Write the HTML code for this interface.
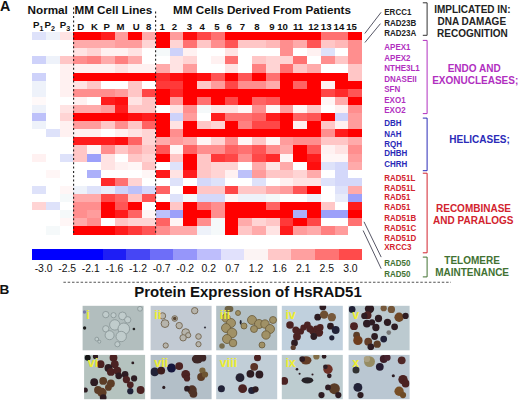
<!DOCTYPE html>
<html><head><meta charset="utf-8"><style>
html,body{margin:0;padding:0;background:#fff;}
body{width:520px;height:400px;overflow:hidden;position:relative;font-family:"Liberation Sans",sans-serif;}
svg{position:absolute;left:0;top:0;}
</style></head><body>
<svg width="520" height="400" viewBox="0 0 520 400" font-family="Liberation Sans, sans-serif">
<defs><filter id="bl" x="-50%" y="-50%" width="200%" height="200%"><feGaussianBlur stdDeviation="0.6"/></filter><filter id="bl2" x="-50%" y="-50%" width="200%" height="200%"><feGaussianBlur stdDeviation="0.4"/></filter>
<clipPath id="c_i"><rect x="82.6" y="305.8" width="61.0" height="44.5"/></clipPath>
<clipPath id="c_ii"><rect x="150.6" y="305.8" width="61.0" height="44.5"/></clipPath>
<clipPath id="c_iii"><rect x="216.2" y="305.8" width="61.0" height="44.5"/></clipPath>
<clipPath id="c_iv"><rect x="281.8" y="305.8" width="61.0" height="44.5"/></clipPath>
<clipPath id="c_v"><rect x="348.6" y="305.8" width="61.0" height="44.5"/></clipPath>
<clipPath id="c_vi"><rect x="84.1" y="354.9" width="61.0" height="44.3"/></clipPath>
<clipPath id="c_vii"><rect x="150.6" y="354.9" width="61.0" height="44.3"/></clipPath>
<clipPath id="c_viii"><rect x="216.2" y="354.9" width="61.0" height="44.3"/></clipPath>
<clipPath id="c_ix"><rect x="281.8" y="354.9" width="61.0" height="44.3"/></clipPath>
<clipPath id="c_x"><rect x="348.6" y="354.9" width="61.0" height="44.3"/></clipPath></defs>
<g shape-rendering="crispEdges">
<rect x="32.00" y="32.00" width="13.81" height="8.15" fill="rgb(222,226,250)"/>
<rect x="45.76" y="32.00" width="13.81" height="8.15" fill="rgb(238,242,250)"/>
<rect x="59.52" y="32.00" width="13.81" height="8.15" fill="rgb(255,227,227)"/>
<rect x="73.28" y="32.00" width="13.81" height="8.15" fill="rgb(255,0,0)"/>
<rect x="87.04" y="32.00" width="13.81" height="8.15" fill="rgb(255,0,0)"/>
<rect x="100.80" y="32.00" width="13.81" height="8.15" fill="rgb(255,28,28)"/>
<rect x="114.56" y="32.00" width="13.81" height="8.15" fill="rgb(255,156,156)"/>
<rect x="128.32" y="32.00" width="13.81" height="8.15" fill="rgb(255,0,0)"/>
<rect x="142.08" y="32.00" width="13.81" height="8.15" fill="rgb(255,170,170)"/>
<rect x="155.84" y="32.00" width="13.81" height="8.15" fill="rgb(255,0,0)"/>
<rect x="169.60" y="32.00" width="13.81" height="8.15" fill="rgb(255,156,156)"/>
<rect x="183.36" y="32.00" width="13.81" height="8.15" fill="rgb(255,14,14)"/>
<rect x="197.12" y="32.00" width="13.81" height="8.15" fill="rgb(255,71,71)"/>
<rect x="210.88" y="32.00" width="13.81" height="8.15" fill="rgb(255,113,113)"/>
<rect x="224.64" y="32.00" width="13.81" height="8.15" fill="rgb(255,0,0)"/>
<rect x="238.40" y="32.00" width="13.81" height="8.15" fill="rgb(255,0,0)"/>
<rect x="252.16" y="32.00" width="13.81" height="8.15" fill="rgb(255,0,0)"/>
<rect x="265.92" y="32.00" width="13.81" height="8.15" fill="rgb(255,0,0)"/>
<rect x="279.68" y="32.00" width="13.81" height="8.15" fill="rgb(255,0,0)"/>
<rect x="293.44" y="32.00" width="13.81" height="8.15" fill="rgb(255,0,0)"/>
<rect x="307.20" y="32.00" width="13.81" height="8.15" fill="rgb(255,0,0)"/>
<rect x="320.96" y="32.00" width="13.81" height="8.15" fill="rgb(255,113,113)"/>
<rect x="334.72" y="32.00" width="13.81" height="8.15" fill="rgb(255,113,113)"/>
<rect x="348.48" y="32.00" width="13.81" height="8.15" fill="rgb(255,0,0)"/>
<rect x="32.00" y="40.10" width="13.81" height="8.15" fill="rgb(255,255,255)"/>
<rect x="45.76" y="40.10" width="13.81" height="8.15" fill="rgb(255,255,255)"/>
<rect x="59.52" y="40.10" width="13.81" height="8.15" fill="rgb(255,255,255)"/>
<rect x="73.28" y="40.10" width="13.81" height="8.15" fill="rgb(255,170,170)"/>
<rect x="87.04" y="40.10" width="13.81" height="8.15" fill="rgb(255,170,170)"/>
<rect x="100.80" y="40.10" width="13.81" height="8.15" fill="rgb(255,170,170)"/>
<rect x="114.56" y="40.10" width="13.81" height="8.15" fill="rgb(255,156,156)"/>
<rect x="128.32" y="40.10" width="13.81" height="8.15" fill="rgb(255,156,156)"/>
<rect x="142.08" y="40.10" width="13.81" height="8.15" fill="rgb(255,212,212)"/>
<rect x="155.84" y="40.10" width="13.81" height="8.15" fill="rgb(255,0,0)"/>
<rect x="169.60" y="40.10" width="13.81" height="8.15" fill="rgb(255,212,212)"/>
<rect x="183.36" y="40.10" width="13.81" height="8.15" fill="rgb(255,113,113)"/>
<rect x="197.12" y="40.10" width="13.81" height="8.15" fill="rgb(255,198,198)"/>
<rect x="210.88" y="40.10" width="13.81" height="8.15" fill="rgb(255,142,142)"/>
<rect x="224.64" y="40.10" width="13.81" height="8.15" fill="rgb(255,85,85)"/>
<rect x="238.40" y="40.10" width="13.81" height="8.15" fill="rgb(255,198,198)"/>
<rect x="252.16" y="40.10" width="13.81" height="8.15" fill="rgb(255,198,198)"/>
<rect x="265.92" y="40.10" width="13.81" height="8.15" fill="rgb(255,184,184)"/>
<rect x="279.68" y="40.10" width="13.81" height="8.15" fill="rgb(255,142,142)"/>
<rect x="293.44" y="40.10" width="13.81" height="8.15" fill="rgb(255,170,170)"/>
<rect x="307.20" y="40.10" width="13.81" height="8.15" fill="rgb(255,85,85)"/>
<rect x="320.96" y="40.10" width="13.81" height="8.15" fill="rgb(255,198,198)"/>
<rect x="334.72" y="40.10" width="13.81" height="8.15" fill="rgb(255,184,184)"/>
<rect x="348.48" y="40.10" width="13.81" height="8.15" fill="rgb(255,142,142)"/>
<rect x="32.00" y="48.20" width="13.81" height="8.15" fill="rgb(255,255,255)"/>
<rect x="45.76" y="48.20" width="13.81" height="8.15" fill="rgb(255,255,255)"/>
<rect x="59.52" y="48.20" width="13.81" height="8.15" fill="rgb(255,255,255)"/>
<rect x="73.28" y="48.20" width="13.81" height="8.15" fill="rgb(255,227,227)"/>
<rect x="87.04" y="48.20" width="13.81" height="8.15" fill="rgb(255,212,212)"/>
<rect x="100.80" y="48.20" width="13.81" height="8.15" fill="rgb(255,241,241)"/>
<rect x="114.56" y="48.20" width="13.81" height="8.15" fill="rgb(255,241,241)"/>
<rect x="128.32" y="48.20" width="13.81" height="8.15" fill="rgb(255,227,227)"/>
<rect x="142.08" y="48.20" width="13.81" height="8.15" fill="rgb(255,255,255)"/>
<rect x="155.84" y="48.20" width="13.81" height="8.15" fill="rgb(245,249,250)"/>
<rect x="169.60" y="48.20" width="13.81" height="8.15" fill="rgb(206,210,250)"/>
<rect x="183.36" y="48.20" width="13.81" height="8.15" fill="rgb(255,241,241)"/>
<rect x="197.12" y="48.20" width="13.81" height="8.15" fill="rgb(255,255,255)"/>
<rect x="210.88" y="48.20" width="13.81" height="8.15" fill="rgb(255,255,255)"/>
<rect x="224.64" y="48.20" width="13.81" height="8.15" fill="rgb(255,227,227)"/>
<rect x="238.40" y="48.20" width="13.81" height="8.15" fill="rgb(255,255,255)"/>
<rect x="252.16" y="48.20" width="13.81" height="8.15" fill="rgb(255,255,255)"/>
<rect x="265.92" y="48.20" width="13.81" height="8.15" fill="rgb(255,255,255)"/>
<rect x="279.68" y="48.20" width="13.81" height="8.15" fill="rgb(255,142,142)"/>
<rect x="293.44" y="48.20" width="13.81" height="8.15" fill="rgb(255,255,255)"/>
<rect x="307.20" y="48.20" width="13.81" height="8.15" fill="rgb(255,241,241)"/>
<rect x="320.96" y="48.20" width="13.81" height="8.15" fill="rgb(222,226,250)"/>
<rect x="334.72" y="48.20" width="13.81" height="8.15" fill="rgb(255,255,255)"/>
<rect x="348.48" y="48.20" width="13.81" height="8.15" fill="rgb(255,142,142)"/>
<rect x="32.00" y="56.30" width="13.81" height="8.15" fill="rgb(206,210,250)"/>
<rect x="45.76" y="56.30" width="13.81" height="8.15" fill="rgb(238,242,250)"/>
<rect x="59.52" y="56.30" width="13.81" height="8.15" fill="rgb(255,198,198)"/>
<rect x="73.28" y="56.30" width="13.81" height="8.15" fill="rgb(255,142,142)"/>
<rect x="87.04" y="56.30" width="13.81" height="8.15" fill="rgb(255,128,128)"/>
<rect x="100.80" y="56.30" width="13.81" height="8.15" fill="rgb(255,170,170)"/>
<rect x="114.56" y="56.30" width="13.81" height="8.15" fill="rgb(255,128,128)"/>
<rect x="128.32" y="56.30" width="13.81" height="8.15" fill="rgb(255,170,170)"/>
<rect x="142.08" y="56.30" width="13.81" height="8.15" fill="rgb(255,255,255)"/>
<rect x="155.84" y="56.30" width="13.81" height="8.15" fill="rgb(255,255,255)"/>
<rect x="169.60" y="56.30" width="13.81" height="8.15" fill="rgb(255,227,227)"/>
<rect x="183.36" y="56.30" width="13.81" height="8.15" fill="rgb(255,212,212)"/>
<rect x="197.12" y="56.30" width="13.81" height="8.15" fill="rgb(255,255,255)"/>
<rect x="210.88" y="56.30" width="13.81" height="8.15" fill="rgb(255,241,241)"/>
<rect x="224.64" y="56.30" width="13.81" height="8.15" fill="rgb(255,113,113)"/>
<rect x="238.40" y="56.30" width="13.81" height="8.15" fill="rgb(255,255,255)"/>
<rect x="252.16" y="56.30" width="13.81" height="8.15" fill="rgb(255,198,198)"/>
<rect x="265.92" y="56.30" width="13.81" height="8.15" fill="rgb(255,212,212)"/>
<rect x="279.68" y="56.30" width="13.81" height="8.15" fill="rgb(255,212,212)"/>
<rect x="293.44" y="56.30" width="13.81" height="8.15" fill="rgb(255,113,113)"/>
<rect x="307.20" y="56.30" width="13.81" height="8.15" fill="rgb(255,255,255)"/>
<rect x="320.96" y="56.30" width="13.81" height="8.15" fill="rgb(255,142,142)"/>
<rect x="334.72" y="56.30" width="13.81" height="8.15" fill="rgb(255,198,198)"/>
<rect x="348.48" y="56.30" width="13.81" height="8.15" fill="rgb(255,142,142)"/>
<rect x="32.00" y="64.40" width="13.81" height="8.15" fill="rgb(255,255,255)"/>
<rect x="45.76" y="64.40" width="13.81" height="8.15" fill="rgb(255,255,255)"/>
<rect x="59.52" y="64.40" width="13.81" height="8.15" fill="rgb(255,241,241)"/>
<rect x="73.28" y="64.40" width="13.81" height="8.15" fill="rgb(255,241,241)"/>
<rect x="87.04" y="64.40" width="13.81" height="8.15" fill="rgb(255,241,241)"/>
<rect x="100.80" y="64.40" width="13.81" height="8.15" fill="rgb(255,241,241)"/>
<rect x="114.56" y="64.40" width="13.81" height="8.15" fill="rgb(255,227,227)"/>
<rect x="128.32" y="64.40" width="13.81" height="8.15" fill="rgb(255,241,241)"/>
<rect x="142.08" y="64.40" width="13.81" height="8.15" fill="rgb(255,241,241)"/>
<rect x="155.84" y="64.40" width="13.81" height="8.15" fill="rgb(255,170,170)"/>
<rect x="169.60" y="64.40" width="13.81" height="8.15" fill="rgb(255,227,227)"/>
<rect x="183.36" y="64.40" width="13.81" height="8.15" fill="rgb(255,156,156)"/>
<rect x="197.12" y="64.40" width="13.81" height="8.15" fill="rgb(255,255,255)"/>
<rect x="210.88" y="64.40" width="13.81" height="8.15" fill="rgb(255,255,255)"/>
<rect x="224.64" y="64.40" width="13.81" height="8.15" fill="rgb(255,227,227)"/>
<rect x="238.40" y="64.40" width="13.81" height="8.15" fill="rgb(255,255,255)"/>
<rect x="252.16" y="64.40" width="13.81" height="8.15" fill="rgb(255,128,128)"/>
<rect x="265.92" y="64.40" width="13.81" height="8.15" fill="rgb(255,212,212)"/>
<rect x="279.68" y="64.40" width="13.81" height="8.15" fill="rgb(255,113,113)"/>
<rect x="293.44" y="64.40" width="13.81" height="8.15" fill="rgb(255,198,198)"/>
<rect x="307.20" y="64.40" width="13.81" height="8.15" fill="rgb(255,170,170)"/>
<rect x="320.96" y="64.40" width="13.81" height="8.15" fill="rgb(255,255,255)"/>
<rect x="334.72" y="64.40" width="13.81" height="8.15" fill="rgb(255,255,255)"/>
<rect x="348.48" y="64.40" width="13.81" height="8.15" fill="rgb(255,198,198)"/>
<rect x="32.00" y="72.50" width="13.81" height="8.15" fill="rgb(206,210,250)"/>
<rect x="45.76" y="72.50" width="13.81" height="8.15" fill="rgb(255,255,255)"/>
<rect x="59.52" y="72.50" width="13.81" height="8.15" fill="rgb(255,241,241)"/>
<rect x="73.28" y="72.50" width="13.81" height="8.15" fill="rgb(255,0,0)"/>
<rect x="87.04" y="72.50" width="13.81" height="8.15" fill="rgb(255,0,0)"/>
<rect x="100.80" y="72.50" width="13.81" height="8.15" fill="rgb(255,0,0)"/>
<rect x="114.56" y="72.50" width="13.81" height="8.15" fill="rgb(255,0,0)"/>
<rect x="128.32" y="72.50" width="13.81" height="8.15" fill="rgb(255,0,0)"/>
<rect x="142.08" y="72.50" width="13.81" height="8.15" fill="rgb(255,0,0)"/>
<rect x="155.84" y="72.50" width="13.81" height="8.15" fill="rgb(255,42,42)"/>
<rect x="169.60" y="72.50" width="13.81" height="8.15" fill="rgb(255,14,14)"/>
<rect x="183.36" y="72.50" width="13.81" height="8.15" fill="rgb(255,0,0)"/>
<rect x="197.12" y="72.50" width="13.81" height="8.15" fill="rgb(255,14,14)"/>
<rect x="210.88" y="72.50" width="13.81" height="8.15" fill="rgb(255,85,85)"/>
<rect x="224.64" y="72.50" width="13.81" height="8.15" fill="rgb(255,0,0)"/>
<rect x="238.40" y="72.50" width="13.81" height="8.15" fill="rgb(255,85,85)"/>
<rect x="252.16" y="72.50" width="13.81" height="8.15" fill="rgb(255,0,0)"/>
<rect x="265.92" y="72.50" width="13.81" height="8.15" fill="rgb(255,113,113)"/>
<rect x="279.68" y="72.50" width="13.81" height="8.15" fill="rgb(255,0,0)"/>
<rect x="293.44" y="72.50" width="13.81" height="8.15" fill="rgb(255,0,0)"/>
<rect x="307.20" y="72.50" width="13.81" height="8.15" fill="rgb(255,0,0)"/>
<rect x="320.96" y="72.50" width="13.81" height="8.15" fill="rgb(255,0,0)"/>
<rect x="334.72" y="72.50" width="13.81" height="8.15" fill="rgb(255,0,0)"/>
<rect x="348.48" y="72.50" width="13.81" height="8.15" fill="rgb(255,198,198)"/>
<rect x="32.00" y="80.60" width="13.81" height="8.15" fill="rgb(238,242,250)"/>
<rect x="45.76" y="80.60" width="13.81" height="8.15" fill="rgb(255,255,255)"/>
<rect x="59.52" y="80.60" width="13.81" height="8.15" fill="rgb(255,241,241)"/>
<rect x="73.28" y="80.60" width="13.81" height="8.15" fill="rgb(255,227,227)"/>
<rect x="87.04" y="80.60" width="13.81" height="8.15" fill="rgb(255,198,198)"/>
<rect x="100.80" y="80.60" width="13.81" height="8.15" fill="rgb(255,255,255)"/>
<rect x="114.56" y="80.60" width="13.81" height="8.15" fill="rgb(255,255,255)"/>
<rect x="128.32" y="80.60" width="13.81" height="8.15" fill="rgb(255,198,198)"/>
<rect x="142.08" y="80.60" width="13.81" height="8.15" fill="rgb(255,255,255)"/>
<rect x="155.84" y="80.60" width="13.81" height="8.15" fill="rgb(255,57,57)"/>
<rect x="169.60" y="80.60" width="13.81" height="8.15" fill="rgb(255,57,57)"/>
<rect x="183.36" y="80.60" width="13.81" height="8.15" fill="rgb(255,0,0)"/>
<rect x="197.12" y="80.60" width="13.81" height="8.15" fill="rgb(255,198,198)"/>
<rect x="210.88" y="80.60" width="13.81" height="8.15" fill="rgb(255,156,156)"/>
<rect x="224.64" y="80.60" width="13.81" height="8.15" fill="rgb(255,71,71)"/>
<rect x="238.40" y="80.60" width="13.81" height="8.15" fill="rgb(255,142,142)"/>
<rect x="252.16" y="80.60" width="13.81" height="8.15" fill="rgb(255,142,142)"/>
<rect x="265.92" y="80.60" width="13.81" height="8.15" fill="rgb(255,170,170)"/>
<rect x="279.68" y="80.60" width="13.81" height="8.15" fill="rgb(255,0,0)"/>
<rect x="293.44" y="80.60" width="13.81" height="8.15" fill="rgb(255,99,99)"/>
<rect x="307.20" y="80.60" width="13.81" height="8.15" fill="rgb(255,0,0)"/>
<rect x="320.96" y="80.60" width="13.81" height="8.15" fill="rgb(255,241,241)"/>
<rect x="334.72" y="80.60" width="13.81" height="8.15" fill="rgb(255,0,0)"/>
<rect x="348.48" y="80.60" width="13.81" height="8.15" fill="rgb(255,0,0)"/>
<rect x="32.00" y="88.70" width="13.81" height="8.15" fill="rgb(238,242,250)"/>
<rect x="45.76" y="88.70" width="13.81" height="8.15" fill="rgb(255,255,255)"/>
<rect x="59.52" y="88.70" width="13.81" height="8.15" fill="rgb(255,241,241)"/>
<rect x="73.28" y="88.70" width="13.81" height="8.15" fill="rgb(255,142,142)"/>
<rect x="87.04" y="88.70" width="13.81" height="8.15" fill="rgb(255,142,142)"/>
<rect x="100.80" y="88.70" width="13.81" height="8.15" fill="rgb(255,142,142)"/>
<rect x="114.56" y="88.70" width="13.81" height="8.15" fill="rgb(255,156,156)"/>
<rect x="128.32" y="88.70" width="13.81" height="8.15" fill="rgb(255,198,198)"/>
<rect x="142.08" y="88.70" width="13.81" height="8.15" fill="rgb(255,71,71)"/>
<rect x="155.84" y="88.70" width="13.81" height="8.15" fill="rgb(255,0,0)"/>
<rect x="169.60" y="88.70" width="13.81" height="8.15" fill="rgb(255,42,42)"/>
<rect x="183.36" y="88.70" width="13.81" height="8.15" fill="rgb(255,0,0)"/>
<rect x="197.12" y="88.70" width="13.81" height="8.15" fill="rgb(255,0,0)"/>
<rect x="210.88" y="88.70" width="13.81" height="8.15" fill="rgb(255,0,0)"/>
<rect x="224.64" y="88.70" width="13.81" height="8.15" fill="rgb(255,0,0)"/>
<rect x="238.40" y="88.70" width="13.81" height="8.15" fill="rgb(255,0,0)"/>
<rect x="252.16" y="88.70" width="13.81" height="8.15" fill="rgb(255,0,0)"/>
<rect x="265.92" y="88.70" width="13.81" height="8.15" fill="rgb(255,0,0)"/>
<rect x="279.68" y="88.70" width="13.81" height="8.15" fill="rgb(255,0,0)"/>
<rect x="293.44" y="88.70" width="13.81" height="8.15" fill="rgb(255,0,0)"/>
<rect x="307.20" y="88.70" width="13.81" height="8.15" fill="rgb(255,0,0)"/>
<rect x="320.96" y="88.70" width="13.81" height="8.15" fill="rgb(255,71,71)"/>
<rect x="334.72" y="88.70" width="13.81" height="8.15" fill="rgb(255,42,42)"/>
<rect x="348.48" y="88.70" width="13.81" height="8.15" fill="rgb(255,85,85)"/>
<rect x="32.00" y="96.80" width="13.81" height="8.15" fill="rgb(255,249,249)"/>
<rect x="45.76" y="96.80" width="13.81" height="8.15" fill="rgb(255,255,255)"/>
<rect x="59.52" y="96.80" width="13.81" height="8.15" fill="rgb(255,255,255)"/>
<rect x="73.28" y="96.80" width="13.81" height="8.15" fill="rgb(255,241,241)"/>
<rect x="87.04" y="96.80" width="13.81" height="8.15" fill="rgb(255,255,255)"/>
<rect x="100.80" y="96.80" width="13.81" height="8.15" fill="rgb(255,28,28)"/>
<rect x="114.56" y="96.80" width="13.81" height="8.15" fill="rgb(255,14,14)"/>
<rect x="128.32" y="96.80" width="13.81" height="8.15" fill="rgb(255,227,227)"/>
<rect x="142.08" y="96.80" width="13.81" height="8.15" fill="rgb(255,198,198)"/>
<rect x="155.84" y="96.80" width="13.81" height="8.15" fill="rgb(255,0,0)"/>
<rect x="169.60" y="96.80" width="13.81" height="8.15" fill="rgb(255,156,156)"/>
<rect x="183.36" y="96.80" width="13.81" height="8.15" fill="rgb(255,0,0)"/>
<rect x="197.12" y="96.80" width="13.81" height="8.15" fill="rgb(255,113,113)"/>
<rect x="210.88" y="96.80" width="13.81" height="8.15" fill="rgb(255,0,0)"/>
<rect x="224.64" y="96.80" width="13.81" height="8.15" fill="rgb(255,71,71)"/>
<rect x="238.40" y="96.80" width="13.81" height="8.15" fill="rgb(255,0,0)"/>
<rect x="252.16" y="96.80" width="13.81" height="8.15" fill="rgb(255,99,99)"/>
<rect x="265.92" y="96.80" width="13.81" height="8.15" fill="rgb(255,85,85)"/>
<rect x="279.68" y="96.80" width="13.81" height="8.15" fill="rgb(255,0,0)"/>
<rect x="293.44" y="96.80" width="13.81" height="8.15" fill="rgb(255,0,0)"/>
<rect x="307.20" y="96.80" width="13.81" height="8.15" fill="rgb(255,0,0)"/>
<rect x="320.96" y="96.80" width="13.81" height="8.15" fill="rgb(255,246,246)"/>
<rect x="334.72" y="96.80" width="13.81" height="8.15" fill="rgb(255,170,170)"/>
<rect x="348.48" y="96.80" width="13.81" height="8.15" fill="rgb(255,0,0)"/>
<rect x="32.00" y="104.90" width="13.81" height="8.15" fill="rgb(238,242,250)"/>
<rect x="45.76" y="104.90" width="13.81" height="8.15" fill="rgb(255,255,255)"/>
<rect x="59.52" y="104.90" width="13.81" height="8.15" fill="rgb(255,227,227)"/>
<rect x="73.28" y="104.90" width="13.81" height="8.15" fill="rgb(255,170,170)"/>
<rect x="87.04" y="104.90" width="13.81" height="8.15" fill="rgb(255,170,170)"/>
<rect x="100.80" y="104.90" width="13.81" height="8.15" fill="rgb(255,156,156)"/>
<rect x="114.56" y="104.90" width="13.81" height="8.15" fill="rgb(255,28,28)"/>
<rect x="128.32" y="104.90" width="13.81" height="8.15" fill="rgb(255,198,198)"/>
<rect x="142.08" y="104.90" width="13.81" height="8.15" fill="rgb(255,198,198)"/>
<rect x="155.84" y="104.90" width="13.81" height="8.15" fill="rgb(255,255,255)"/>
<rect x="169.60" y="104.90" width="13.81" height="8.15" fill="rgb(255,227,227)"/>
<rect x="183.36" y="104.90" width="13.81" height="8.15" fill="rgb(255,142,142)"/>
<rect x="197.12" y="104.90" width="13.81" height="8.15" fill="rgb(245,249,250)"/>
<rect x="210.88" y="104.90" width="13.81" height="8.15" fill="rgb(255,227,227)"/>
<rect x="224.64" y="104.90" width="13.81" height="8.15" fill="rgb(255,227,227)"/>
<rect x="238.40" y="104.90" width="13.81" height="8.15" fill="rgb(255,246,246)"/>
<rect x="252.16" y="104.90" width="13.81" height="8.15" fill="rgb(255,142,142)"/>
<rect x="265.92" y="104.90" width="13.81" height="8.15" fill="rgb(255,246,246)"/>
<rect x="279.68" y="104.90" width="13.81" height="8.15" fill="rgb(255,156,156)"/>
<rect x="293.44" y="104.90" width="13.81" height="8.15" fill="rgb(255,246,246)"/>
<rect x="307.20" y="104.90" width="13.81" height="8.15" fill="rgb(255,198,198)"/>
<rect x="320.96" y="104.90" width="13.81" height="8.15" fill="rgb(255,255,255)"/>
<rect x="334.72" y="104.90" width="13.81" height="8.15" fill="rgb(255,241,241)"/>
<rect x="348.48" y="104.90" width="13.81" height="8.15" fill="rgb(255,142,142)"/>
<rect x="32.00" y="113.00" width="13.81" height="8.15" fill="rgb(189,193,250)"/>
<rect x="45.76" y="113.00" width="13.81" height="8.15" fill="rgb(255,255,255)"/>
<rect x="59.52" y="113.00" width="13.81" height="8.15" fill="rgb(255,212,212)"/>
<rect x="73.28" y="113.00" width="13.81" height="8.15" fill="rgb(255,0,0)"/>
<rect x="87.04" y="113.00" width="13.81" height="8.15" fill="rgb(255,0,0)"/>
<rect x="100.80" y="113.00" width="13.81" height="8.15" fill="rgb(255,0,0)"/>
<rect x="114.56" y="113.00" width="13.81" height="8.15" fill="rgb(255,0,0)"/>
<rect x="128.32" y="113.00" width="13.81" height="8.15" fill="rgb(255,14,14)"/>
<rect x="142.08" y="113.00" width="13.81" height="8.15" fill="rgb(255,28,28)"/>
<rect x="155.84" y="113.00" width="13.81" height="8.15" fill="rgb(255,0,0)"/>
<rect x="169.60" y="113.00" width="13.81" height="8.15" fill="rgb(206,210,250)"/>
<rect x="183.36" y="113.00" width="13.81" height="8.15" fill="rgb(255,156,156)"/>
<rect x="197.12" y="113.00" width="13.81" height="8.15" fill="rgb(255,255,255)"/>
<rect x="210.88" y="113.00" width="13.81" height="8.15" fill="rgb(255,28,28)"/>
<rect x="224.64" y="113.00" width="13.81" height="8.15" fill="rgb(255,113,113)"/>
<rect x="238.40" y="113.00" width="13.81" height="8.15" fill="rgb(255,113,113)"/>
<rect x="252.16" y="113.00" width="13.81" height="8.15" fill="rgb(255,99,99)"/>
<rect x="265.92" y="113.00" width="13.81" height="8.15" fill="rgb(255,28,28)"/>
<rect x="279.68" y="113.00" width="13.81" height="8.15" fill="rgb(255,0,0)"/>
<rect x="293.44" y="113.00" width="13.81" height="8.15" fill="rgb(255,99,99)"/>
<rect x="307.20" y="113.00" width="13.81" height="8.15" fill="rgb(255,85,85)"/>
<rect x="320.96" y="113.00" width="13.81" height="8.15" fill="rgb(255,0,0)"/>
<rect x="334.72" y="113.00" width="13.81" height="8.15" fill="rgb(206,210,250)"/>
<rect x="348.48" y="113.00" width="13.81" height="8.15" fill="rgb(255,156,156)"/>
<rect x="32.00" y="121.10" width="13.81" height="8.15" fill="rgb(238,242,250)"/>
<rect x="45.76" y="121.10" width="13.81" height="8.15" fill="rgb(255,255,255)"/>
<rect x="59.52" y="121.10" width="13.81" height="8.15" fill="rgb(255,241,241)"/>
<rect x="73.28" y="121.10" width="13.81" height="8.15" fill="rgb(255,156,156)"/>
<rect x="87.04" y="121.10" width="13.81" height="8.15" fill="rgb(255,156,156)"/>
<rect x="100.80" y="121.10" width="13.81" height="8.15" fill="rgb(255,198,198)"/>
<rect x="114.56" y="121.10" width="13.81" height="8.15" fill="rgb(255,142,142)"/>
<rect x="128.32" y="121.10" width="13.81" height="8.15" fill="rgb(255,198,198)"/>
<rect x="142.08" y="121.10" width="13.81" height="8.15" fill="rgb(255,99,99)"/>
<rect x="155.84" y="121.10" width="13.81" height="8.15" fill="rgb(255,0,0)"/>
<rect x="169.60" y="121.10" width="13.81" height="8.15" fill="rgb(255,227,227)"/>
<rect x="183.36" y="121.10" width="13.81" height="8.15" fill="rgb(255,0,0)"/>
<rect x="197.12" y="121.10" width="13.81" height="8.15" fill="rgb(255,198,198)"/>
<rect x="210.88" y="121.10" width="13.81" height="8.15" fill="rgb(255,212,212)"/>
<rect x="224.64" y="121.10" width="13.81" height="8.15" fill="rgb(255,0,0)"/>
<rect x="238.40" y="121.10" width="13.81" height="8.15" fill="rgb(255,128,128)"/>
<rect x="252.16" y="121.10" width="13.81" height="8.15" fill="rgb(255,71,71)"/>
<rect x="265.92" y="121.10" width="13.81" height="8.15" fill="rgb(255,71,71)"/>
<rect x="279.68" y="121.10" width="13.81" height="8.15" fill="rgb(255,0,0)"/>
<rect x="293.44" y="121.10" width="13.81" height="8.15" fill="rgb(255,241,241)"/>
<rect x="307.20" y="121.10" width="13.81" height="8.15" fill="rgb(255,0,0)"/>
<rect x="320.96" y="121.10" width="13.81" height="8.15" fill="rgb(255,198,198)"/>
<rect x="334.72" y="121.10" width="13.81" height="8.15" fill="rgb(255,241,241)"/>
<rect x="348.48" y="121.10" width="13.81" height="8.15" fill="rgb(255,156,156)"/>
<rect x="32.00" y="129.20" width="13.81" height="8.15" fill="rgb(255,255,255)"/>
<rect x="45.76" y="129.20" width="13.81" height="8.15" fill="rgb(222,226,250)"/>
<rect x="59.52" y="129.20" width="13.81" height="8.15" fill="rgb(255,241,241)"/>
<rect x="73.28" y="129.20" width="13.81" height="8.15" fill="rgb(255,241,241)"/>
<rect x="87.04" y="129.20" width="13.81" height="8.15" fill="rgb(255,241,241)"/>
<rect x="100.80" y="129.20" width="13.81" height="8.15" fill="rgb(255,255,255)"/>
<rect x="114.56" y="129.20" width="13.81" height="8.15" fill="rgb(255,241,241)"/>
<rect x="128.32" y="129.20" width="13.81" height="8.15" fill="rgb(255,227,227)"/>
<rect x="142.08" y="129.20" width="13.81" height="8.15" fill="rgb(255,212,212)"/>
<rect x="155.84" y="129.20" width="13.81" height="8.15" fill="rgb(255,0,0)"/>
<rect x="169.60" y="129.20" width="13.81" height="8.15" fill="rgb(255,142,142)"/>
<rect x="183.36" y="129.20" width="13.81" height="8.15" fill="rgb(255,0,0)"/>
<rect x="197.12" y="129.20" width="13.81" height="8.15" fill="rgb(255,0,0)"/>
<rect x="210.88" y="129.20" width="13.81" height="8.15" fill="rgb(255,0,0)"/>
<rect x="224.64" y="129.20" width="13.81" height="8.15" fill="rgb(255,0,0)"/>
<rect x="238.40" y="129.20" width="13.81" height="8.15" fill="rgb(255,0,0)"/>
<rect x="252.16" y="129.20" width="13.81" height="8.15" fill="rgb(255,0,0)"/>
<rect x="265.92" y="129.20" width="13.81" height="8.15" fill="rgb(255,0,0)"/>
<rect x="279.68" y="129.20" width="13.81" height="8.15" fill="rgb(255,0,0)"/>
<rect x="293.44" y="129.20" width="13.81" height="8.15" fill="rgb(255,0,0)"/>
<rect x="307.20" y="129.20" width="13.81" height="8.15" fill="rgb(255,0,0)"/>
<rect x="320.96" y="129.20" width="13.81" height="8.15" fill="rgb(255,142,142)"/>
<rect x="334.72" y="129.20" width="13.81" height="8.15" fill="rgb(255,28,28)"/>
<rect x="348.48" y="129.20" width="13.81" height="8.15" fill="rgb(255,0,0)"/>
<rect x="32.00" y="137.30" width="13.81" height="8.15" fill="rgb(255,255,255)"/>
<rect x="45.76" y="137.30" width="13.81" height="8.15" fill="rgb(255,255,255)"/>
<rect x="59.52" y="137.30" width="13.81" height="8.15" fill="rgb(255,255,255)"/>
<rect x="73.28" y="137.30" width="13.81" height="8.15" fill="rgb(255,28,28)"/>
<rect x="87.04" y="137.30" width="13.81" height="8.15" fill="rgb(255,28,28)"/>
<rect x="100.80" y="137.30" width="13.81" height="8.15" fill="rgb(255,28,28)"/>
<rect x="114.56" y="137.30" width="13.81" height="8.15" fill="rgb(255,14,14)"/>
<rect x="128.32" y="137.30" width="13.81" height="8.15" fill="rgb(255,99,99)"/>
<rect x="142.08" y="137.30" width="13.81" height="8.15" fill="rgb(255,212,212)"/>
<rect x="155.84" y="137.30" width="13.81" height="8.15" fill="rgb(255,170,170)"/>
<rect x="169.60" y="137.30" width="13.81" height="8.15" fill="rgb(255,156,156)"/>
<rect x="183.36" y="137.30" width="13.81" height="8.15" fill="rgb(255,170,170)"/>
<rect x="197.12" y="137.30" width="13.81" height="8.15" fill="rgb(255,246,246)"/>
<rect x="210.88" y="137.30" width="13.81" height="8.15" fill="rgb(255,212,212)"/>
<rect x="224.64" y="137.30" width="13.81" height="8.15" fill="rgb(255,142,142)"/>
<rect x="238.40" y="137.30" width="13.81" height="8.15" fill="rgb(255,246,246)"/>
<rect x="252.16" y="137.30" width="13.81" height="8.15" fill="rgb(255,198,198)"/>
<rect x="265.92" y="137.30" width="13.81" height="8.15" fill="rgb(255,246,246)"/>
<rect x="279.68" y="137.30" width="13.81" height="8.15" fill="rgb(255,156,156)"/>
<rect x="293.44" y="137.30" width="13.81" height="8.15" fill="rgb(255,142,142)"/>
<rect x="307.20" y="137.30" width="13.81" height="8.15" fill="rgb(255,142,142)"/>
<rect x="320.96" y="137.30" width="13.81" height="8.15" fill="rgb(255,198,198)"/>
<rect x="334.72" y="137.30" width="13.81" height="8.15" fill="rgb(255,198,198)"/>
<rect x="348.48" y="137.30" width="13.81" height="8.15" fill="rgb(255,170,170)"/>
<rect x="32.00" y="145.40" width="13.81" height="8.15" fill="rgb(255,255,255)"/>
<rect x="45.76" y="145.40" width="13.81" height="8.15" fill="rgb(255,255,255)"/>
<rect x="59.52" y="145.40" width="13.81" height="8.15" fill="rgb(255,255,255)"/>
<rect x="73.28" y="145.40" width="13.81" height="8.15" fill="rgb(255,198,198)"/>
<rect x="87.04" y="145.40" width="13.81" height="8.15" fill="rgb(255,246,246)"/>
<rect x="100.80" y="145.40" width="13.81" height="8.15" fill="rgb(255,142,142)"/>
<rect x="114.56" y="145.40" width="13.81" height="8.15" fill="rgb(255,198,198)"/>
<rect x="128.32" y="145.40" width="13.81" height="8.15" fill="rgb(255,170,170)"/>
<rect x="142.08" y="145.40" width="13.81" height="8.15" fill="rgb(255,198,198)"/>
<rect x="155.84" y="145.40" width="13.81" height="8.15" fill="rgb(255,85,85)"/>
<rect x="169.60" y="145.40" width="13.81" height="8.15" fill="rgb(255,246,246)"/>
<rect x="183.36" y="145.40" width="13.81" height="8.15" fill="rgb(255,99,99)"/>
<rect x="197.12" y="145.40" width="13.81" height="8.15" fill="rgb(255,142,142)"/>
<rect x="210.88" y="145.40" width="13.81" height="8.15" fill="rgb(255,142,142)"/>
<rect x="224.64" y="145.40" width="13.81" height="8.15" fill="rgb(255,99,99)"/>
<rect x="238.40" y="145.40" width="13.81" height="8.15" fill="rgb(255,113,113)"/>
<rect x="252.16" y="145.40" width="13.81" height="8.15" fill="rgb(255,85,85)"/>
<rect x="265.92" y="145.40" width="13.81" height="8.15" fill="rgb(255,142,142)"/>
<rect x="279.68" y="145.40" width="13.81" height="8.15" fill="rgb(255,170,170)"/>
<rect x="293.44" y="145.40" width="13.81" height="8.15" fill="rgb(255,0,0)"/>
<rect x="307.20" y="145.40" width="13.81" height="8.15" fill="rgb(255,85,85)"/>
<rect x="320.96" y="145.40" width="13.81" height="8.15" fill="rgb(255,241,241)"/>
<rect x="334.72" y="145.40" width="13.81" height="8.15" fill="rgb(255,227,227)"/>
<rect x="348.48" y="145.40" width="13.81" height="8.15" fill="rgb(255,142,142)"/>
<rect x="32.00" y="153.50" width="13.81" height="8.15" fill="rgb(255,241,241)"/>
<rect x="45.76" y="153.50" width="13.81" height="8.15" fill="rgb(255,255,255)"/>
<rect x="59.52" y="153.50" width="13.81" height="8.15" fill="rgb(222,226,250)"/>
<rect x="73.28" y="153.50" width="13.81" height="8.15" fill="rgb(255,198,198)"/>
<rect x="87.04" y="153.50" width="13.81" height="8.15" fill="rgb(156,160,250)"/>
<rect x="100.80" y="153.50" width="13.81" height="8.15" fill="rgb(255,227,227)"/>
<rect x="114.56" y="153.50" width="13.81" height="8.15" fill="rgb(255,255,255)"/>
<rect x="128.32" y="153.50" width="13.81" height="8.15" fill="rgb(255,198,198)"/>
<rect x="142.08" y="153.50" width="13.81" height="8.15" fill="rgb(255,212,212)"/>
<rect x="155.84" y="153.50" width="13.81" height="8.15" fill="rgb(255,0,0)"/>
<rect x="169.60" y="153.50" width="13.81" height="8.15" fill="rgb(255,198,198)"/>
<rect x="183.36" y="153.50" width="13.81" height="8.15" fill="rgb(255,0,0)"/>
<rect x="197.12" y="153.50" width="13.81" height="8.15" fill="rgb(255,198,198)"/>
<rect x="210.88" y="153.50" width="13.81" height="8.15" fill="rgb(255,57,57)"/>
<rect x="224.64" y="153.50" width="13.81" height="8.15" fill="rgb(255,71,71)"/>
<rect x="238.40" y="153.50" width="13.81" height="8.15" fill="rgb(255,142,142)"/>
<rect x="252.16" y="153.50" width="13.81" height="8.15" fill="rgb(255,71,71)"/>
<rect x="265.92" y="153.50" width="13.81" height="8.15" fill="rgb(255,42,42)"/>
<rect x="279.68" y="153.50" width="13.81" height="8.15" fill="rgb(255,246,246)"/>
<rect x="293.44" y="153.50" width="13.81" height="8.15" fill="rgb(255,0,0)"/>
<rect x="307.20" y="153.50" width="13.81" height="8.15" fill="rgb(255,28,28)"/>
<rect x="320.96" y="153.50" width="13.81" height="8.15" fill="rgb(255,246,246)"/>
<rect x="334.72" y="153.50" width="13.81" height="8.15" fill="rgb(255,246,246)"/>
<rect x="348.48" y="153.50" width="13.81" height="8.15" fill="rgb(255,156,156)"/>
<rect x="32.00" y="161.60" width="13.81" height="8.15" fill="rgb(255,255,255)"/>
<rect x="45.76" y="161.60" width="13.81" height="8.15" fill="rgb(255,255,255)"/>
<rect x="59.52" y="161.60" width="13.81" height="8.15" fill="rgb(255,255,255)"/>
<rect x="73.28" y="161.60" width="13.81" height="8.15" fill="rgb(255,255,255)"/>
<rect x="87.04" y="161.60" width="13.81" height="8.15" fill="rgb(255,255,255)"/>
<rect x="100.80" y="161.60" width="13.81" height="8.15" fill="rgb(255,227,227)"/>
<rect x="114.56" y="161.60" width="13.81" height="8.15" fill="rgb(255,241,241)"/>
<rect x="128.32" y="161.60" width="13.81" height="8.15" fill="rgb(255,246,246)"/>
<rect x="142.08" y="161.60" width="13.81" height="8.15" fill="rgb(255,198,198)"/>
<rect x="155.84" y="161.60" width="13.81" height="8.15" fill="rgb(255,255,255)"/>
<rect x="169.60" y="161.60" width="13.81" height="8.15" fill="rgb(222,226,250)"/>
<rect x="183.36" y="161.60" width="13.81" height="8.15" fill="rgb(255,0,0)"/>
<rect x="197.12" y="161.60" width="13.81" height="8.15" fill="rgb(255,198,198)"/>
<rect x="210.88" y="161.60" width="13.81" height="8.15" fill="rgb(255,212,212)"/>
<rect x="224.64" y="161.60" width="13.81" height="8.15" fill="rgb(255,212,212)"/>
<rect x="238.40" y="161.60" width="13.81" height="8.15" fill="rgb(255,255,255)"/>
<rect x="252.16" y="161.60" width="13.81" height="8.15" fill="rgb(255,170,170)"/>
<rect x="265.92" y="161.60" width="13.81" height="8.15" fill="rgb(255,227,227)"/>
<rect x="279.68" y="161.60" width="13.81" height="8.15" fill="rgb(255,170,170)"/>
<rect x="293.44" y="161.60" width="13.81" height="8.15" fill="rgb(255,255,255)"/>
<rect x="307.20" y="161.60" width="13.81" height="8.15" fill="rgb(255,14,14)"/>
<rect x="320.96" y="161.60" width="13.81" height="8.15" fill="rgb(222,226,250)"/>
<rect x="334.72" y="161.60" width="13.81" height="8.15" fill="rgb(212,216,250)"/>
<rect x="348.48" y="161.60" width="13.81" height="8.15" fill="rgb(255,170,170)"/>
<rect x="32.00" y="169.70" width="13.81" height="8.15" fill="rgb(255,255,255)"/>
<rect x="45.76" y="169.70" width="13.81" height="8.15" fill="rgb(255,246,246)"/>
<rect x="59.52" y="169.70" width="13.81" height="8.15" fill="rgb(255,255,255)"/>
<rect x="73.28" y="169.70" width="13.81" height="8.15" fill="rgb(255,255,255)"/>
<rect x="87.04" y="169.70" width="13.81" height="8.15" fill="rgb(172,176,250)"/>
<rect x="100.80" y="169.70" width="13.81" height="8.15" fill="rgb(255,255,255)"/>
<rect x="114.56" y="169.70" width="13.81" height="8.15" fill="rgb(255,255,255)"/>
<rect x="128.32" y="169.70" width="13.81" height="8.15" fill="rgb(255,255,255)"/>
<rect x="142.08" y="169.70" width="13.81" height="8.15" fill="rgb(255,246,246)"/>
<rect x="155.84" y="169.70" width="13.81" height="8.15" fill="rgb(255,28,28)"/>
<rect x="169.60" y="169.70" width="13.81" height="8.15" fill="rgb(255,227,227)"/>
<rect x="183.36" y="169.70" width="13.81" height="8.15" fill="rgb(255,28,28)"/>
<rect x="197.12" y="169.70" width="13.81" height="8.15" fill="rgb(255,198,198)"/>
<rect x="210.88" y="169.70" width="13.81" height="8.15" fill="rgb(255,212,212)"/>
<rect x="224.64" y="169.70" width="13.81" height="8.15" fill="rgb(255,241,241)"/>
<rect x="238.40" y="169.70" width="13.81" height="8.15" fill="rgb(189,193,250)"/>
<rect x="252.16" y="169.70" width="13.81" height="8.15" fill="rgb(255,156,156)"/>
<rect x="265.92" y="169.70" width="13.81" height="8.15" fill="rgb(255,198,198)"/>
<rect x="279.68" y="169.70" width="13.81" height="8.15" fill="rgb(255,198,198)"/>
<rect x="293.44" y="169.70" width="13.81" height="8.15" fill="rgb(255,212,212)"/>
<rect x="307.20" y="169.70" width="13.81" height="8.15" fill="rgb(255,170,170)"/>
<rect x="320.96" y="169.70" width="13.81" height="8.15" fill="rgb(255,255,255)"/>
<rect x="334.72" y="169.70" width="13.81" height="8.15" fill="rgb(212,216,250)"/>
<rect x="348.48" y="169.70" width="13.81" height="8.15" fill="rgb(255,255,255)"/>
<rect x="32.00" y="177.80" width="13.81" height="8.15" fill="rgb(255,255,255)"/>
<rect x="45.76" y="177.80" width="13.81" height="8.15" fill="rgb(255,255,255)"/>
<rect x="59.52" y="177.80" width="13.81" height="8.15" fill="rgb(255,255,255)"/>
<rect x="73.28" y="177.80" width="13.81" height="8.15" fill="rgb(255,255,255)"/>
<rect x="87.04" y="177.80" width="13.81" height="8.15" fill="rgb(255,255,255)"/>
<rect x="100.80" y="177.80" width="13.81" height="8.15" fill="rgb(255,42,42)"/>
<rect x="114.56" y="177.80" width="13.81" height="8.15" fill="rgb(255,113,113)"/>
<rect x="128.32" y="177.80" width="13.81" height="8.15" fill="rgb(255,212,212)"/>
<rect x="142.08" y="177.80" width="13.81" height="8.15" fill="rgb(255,255,255)"/>
<rect x="155.84" y="177.80" width="13.81" height="8.15" fill="rgb(255,255,255)"/>
<rect x="169.60" y="177.80" width="13.81" height="8.15" fill="rgb(222,226,250)"/>
<rect x="183.36" y="177.80" width="13.81" height="8.15" fill="rgb(255,255,255)"/>
<rect x="197.12" y="177.80" width="13.81" height="8.15" fill="rgb(212,216,250)"/>
<rect x="210.88" y="177.80" width="13.81" height="8.15" fill="rgb(222,226,250)"/>
<rect x="224.64" y="177.80" width="13.81" height="8.15" fill="rgb(255,255,255)"/>
<rect x="238.40" y="177.80" width="13.81" height="8.15" fill="rgb(255,255,255)"/>
<rect x="252.16" y="177.80" width="13.81" height="8.15" fill="rgb(222,226,250)"/>
<rect x="265.92" y="177.80" width="13.81" height="8.15" fill="rgb(255,255,255)"/>
<rect x="279.68" y="177.80" width="13.81" height="8.15" fill="rgb(255,241,241)"/>
<rect x="293.44" y="177.80" width="13.81" height="8.15" fill="rgb(255,227,227)"/>
<rect x="307.20" y="177.80" width="13.81" height="8.15" fill="rgb(255,227,227)"/>
<rect x="320.96" y="177.80" width="13.81" height="8.15" fill="rgb(222,226,250)"/>
<rect x="334.72" y="177.80" width="13.81" height="8.15" fill="rgb(212,216,250)"/>
<rect x="348.48" y="177.80" width="13.81" height="8.15" fill="rgb(212,216,250)"/>
<rect x="32.00" y="185.90" width="13.81" height="8.15" fill="rgb(222,226,250)"/>
<rect x="45.76" y="185.90" width="13.81" height="8.15" fill="rgb(255,255,255)"/>
<rect x="59.52" y="185.90" width="13.81" height="8.15" fill="rgb(255,246,246)"/>
<rect x="73.28" y="185.90" width="13.81" height="8.15" fill="rgb(238,242,250)"/>
<rect x="87.04" y="185.90" width="13.81" height="8.15" fill="rgb(222,226,250)"/>
<rect x="100.80" y="185.90" width="13.81" height="8.15" fill="rgb(232,236,250)"/>
<rect x="114.56" y="185.90" width="13.81" height="8.15" fill="rgb(206,210,250)"/>
<rect x="128.32" y="185.90" width="13.81" height="8.15" fill="rgb(189,193,250)"/>
<rect x="142.08" y="185.90" width="13.81" height="8.15" fill="rgb(212,216,250)"/>
<rect x="155.84" y="185.90" width="13.81" height="8.15" fill="rgb(255,99,99)"/>
<rect x="169.60" y="185.90" width="13.81" height="8.15" fill="rgb(255,255,255)"/>
<rect x="183.36" y="185.90" width="13.81" height="8.15" fill="rgb(255,0,0)"/>
<rect x="197.12" y="185.90" width="13.81" height="8.15" fill="rgb(255,198,198)"/>
<rect x="210.88" y="185.90" width="13.81" height="8.15" fill="rgb(255,198,198)"/>
<rect x="224.64" y="185.90" width="13.81" height="8.15" fill="rgb(255,71,71)"/>
<rect x="238.40" y="185.90" width="13.81" height="8.15" fill="rgb(255,198,198)"/>
<rect x="252.16" y="185.90" width="13.81" height="8.15" fill="rgb(255,198,198)"/>
<rect x="265.92" y="185.90" width="13.81" height="8.15" fill="rgb(255,170,170)"/>
<rect x="279.68" y="185.90" width="13.81" height="8.15" fill="rgb(255,156,156)"/>
<rect x="293.44" y="185.90" width="13.81" height="8.15" fill="rgb(255,85,85)"/>
<rect x="307.20" y="185.90" width="13.81" height="8.15" fill="rgb(255,0,0)"/>
<rect x="320.96" y="185.90" width="13.81" height="8.15" fill="rgb(255,255,255)"/>
<rect x="334.72" y="185.90" width="13.81" height="8.15" fill="rgb(222,226,250)"/>
<rect x="348.48" y="185.90" width="13.81" height="8.15" fill="rgb(255,170,170)"/>
<rect x="32.00" y="194.00" width="13.81" height="8.15" fill="rgb(255,255,255)"/>
<rect x="45.76" y="194.00" width="13.81" height="8.15" fill="rgb(255,255,255)"/>
<rect x="59.52" y="194.00" width="13.81" height="8.15" fill="rgb(245,249,250)"/>
<rect x="73.28" y="194.00" width="13.81" height="8.15" fill="rgb(255,170,170)"/>
<rect x="87.04" y="194.00" width="13.81" height="8.15" fill="rgb(255,170,170)"/>
<rect x="100.80" y="194.00" width="13.81" height="8.15" fill="rgb(255,71,71)"/>
<rect x="114.56" y="194.00" width="13.81" height="8.15" fill="rgb(255,99,99)"/>
<rect x="128.32" y="194.00" width="13.81" height="8.15" fill="rgb(255,198,198)"/>
<rect x="142.08" y="194.00" width="13.81" height="8.15" fill="rgb(255,85,85)"/>
<rect x="155.84" y="194.00" width="13.81" height="8.15" fill="rgb(255,255,255)"/>
<rect x="169.60" y="194.00" width="13.81" height="8.15" fill="rgb(222,226,250)"/>
<rect x="183.36" y="194.00" width="13.81" height="8.15" fill="rgb(245,249,250)"/>
<rect x="197.12" y="194.00" width="13.81" height="8.15" fill="rgb(212,216,250)"/>
<rect x="210.88" y="194.00" width="13.81" height="8.15" fill="rgb(212,216,250)"/>
<rect x="224.64" y="194.00" width="13.81" height="8.15" fill="rgb(255,246,246)"/>
<rect x="238.40" y="194.00" width="13.81" height="8.15" fill="rgb(238,242,250)"/>
<rect x="252.16" y="194.00" width="13.81" height="8.15" fill="rgb(238,242,250)"/>
<rect x="265.92" y="194.00" width="13.81" height="8.15" fill="rgb(245,249,250)"/>
<rect x="279.68" y="194.00" width="13.81" height="8.15" fill="rgb(255,255,255)"/>
<rect x="293.44" y="194.00" width="13.81" height="8.15" fill="rgb(255,255,255)"/>
<rect x="307.20" y="194.00" width="13.81" height="8.15" fill="rgb(238,242,250)"/>
<rect x="320.96" y="194.00" width="13.81" height="8.15" fill="rgb(255,255,255)"/>
<rect x="334.72" y="194.00" width="13.81" height="8.15" fill="rgb(232,236,250)"/>
<rect x="348.48" y="194.00" width="13.81" height="8.15" fill="rgb(156,160,250)"/>
<rect x="32.00" y="202.10" width="13.81" height="8.15" fill="rgb(255,212,212)"/>
<rect x="45.76" y="202.10" width="13.81" height="8.15" fill="rgb(222,226,250)"/>
<rect x="59.52" y="202.10" width="13.81" height="8.15" fill="rgb(255,255,255)"/>
<rect x="73.28" y="202.10" width="13.81" height="8.15" fill="rgb(255,142,142)"/>
<rect x="87.04" y="202.10" width="13.81" height="8.15" fill="rgb(255,142,142)"/>
<rect x="100.80" y="202.10" width="13.81" height="8.15" fill="rgb(255,0,0)"/>
<rect x="114.56" y="202.10" width="13.81" height="8.15" fill="rgb(255,85,85)"/>
<rect x="128.32" y="202.10" width="13.81" height="8.15" fill="rgb(255,0,0)"/>
<rect x="142.08" y="202.10" width="13.81" height="8.15" fill="rgb(255,255,255)"/>
<rect x="155.84" y="202.10" width="13.81" height="8.15" fill="rgb(255,0,0)"/>
<rect x="169.60" y="202.10" width="13.81" height="8.15" fill="rgb(255,198,198)"/>
<rect x="183.36" y="202.10" width="13.81" height="8.15" fill="rgb(255,0,0)"/>
<rect x="197.12" y="202.10" width="13.81" height="8.15" fill="rgb(255,113,113)"/>
<rect x="210.88" y="202.10" width="13.81" height="8.15" fill="rgb(255,142,142)"/>
<rect x="224.64" y="202.10" width="13.81" height="8.15" fill="rgb(255,0,0)"/>
<rect x="238.40" y="202.10" width="13.81" height="8.15" fill="rgb(255,0,0)"/>
<rect x="252.16" y="202.10" width="13.81" height="8.15" fill="rgb(255,0,0)"/>
<rect x="265.92" y="202.10" width="13.81" height="8.15" fill="rgb(255,99,99)"/>
<rect x="279.68" y="202.10" width="13.81" height="8.15" fill="rgb(255,0,0)"/>
<rect x="293.44" y="202.10" width="13.81" height="8.15" fill="rgb(255,0,0)"/>
<rect x="307.20" y="202.10" width="13.81" height="8.15" fill="rgb(255,0,0)"/>
<rect x="320.96" y="202.10" width="13.81" height="8.15" fill="rgb(255,198,198)"/>
<rect x="334.72" y="202.10" width="13.81" height="8.15" fill="rgb(255,255,255)"/>
<rect x="348.48" y="202.10" width="13.81" height="8.15" fill="rgb(255,28,28)"/>
<rect x="32.00" y="210.20" width="13.81" height="8.15" fill="rgb(255,255,255)"/>
<rect x="45.76" y="210.20" width="13.81" height="8.15" fill="rgb(255,255,255)"/>
<rect x="59.52" y="210.20" width="13.81" height="8.15" fill="rgb(245,249,250)"/>
<rect x="73.28" y="210.20" width="13.81" height="8.15" fill="rgb(255,142,142)"/>
<rect x="87.04" y="210.20" width="13.81" height="8.15" fill="rgb(255,156,156)"/>
<rect x="100.80" y="210.20" width="13.81" height="8.15" fill="rgb(255,0,0)"/>
<rect x="114.56" y="210.20" width="13.81" height="8.15" fill="rgb(255,28,28)"/>
<rect x="128.32" y="210.20" width="13.81" height="8.15" fill="rgb(255,99,99)"/>
<rect x="142.08" y="210.20" width="13.81" height="8.15" fill="rgb(255,246,246)"/>
<rect x="155.84" y="210.20" width="13.81" height="8.15" fill="rgb(189,193,250)"/>
<rect x="169.60" y="210.20" width="13.81" height="8.15" fill="rgb(156,160,250)"/>
<rect x="183.36" y="210.20" width="13.81" height="8.15" fill="rgb(255,0,0)"/>
<rect x="197.12" y="210.20" width="13.81" height="8.15" fill="rgb(255,0,0)"/>
<rect x="210.88" y="210.20" width="13.81" height="8.15" fill="rgb(255,142,142)"/>
<rect x="224.64" y="210.20" width="13.81" height="8.15" fill="rgb(255,0,0)"/>
<rect x="238.40" y="210.20" width="13.81" height="8.15" fill="rgb(255,0,0)"/>
<rect x="252.16" y="210.20" width="13.81" height="8.15" fill="rgb(255,0,0)"/>
<rect x="265.92" y="210.20" width="13.81" height="8.15" fill="rgb(255,0,0)"/>
<rect x="279.68" y="210.20" width="13.81" height="8.15" fill="rgb(255,0,0)"/>
<rect x="293.44" y="210.20" width="13.81" height="8.15" fill="rgb(172,176,250)"/>
<rect x="307.20" y="210.20" width="13.81" height="8.15" fill="rgb(255,0,0)"/>
<rect x="320.96" y="210.20" width="13.81" height="8.15" fill="rgb(156,160,250)"/>
<rect x="334.72" y="210.20" width="13.81" height="8.15" fill="rgb(156,160,250)"/>
<rect x="348.48" y="210.20" width="13.81" height="8.15" fill="rgb(255,0,0)"/>
<rect x="32.00" y="218.30" width="13.81" height="8.15" fill="rgb(255,255,255)"/>
<rect x="45.76" y="218.30" width="13.81" height="8.15" fill="rgb(255,255,255)"/>
<rect x="59.52" y="218.30" width="13.81" height="8.15" fill="rgb(255,246,246)"/>
<rect x="73.28" y="218.30" width="13.81" height="8.15" fill="rgb(255,170,170)"/>
<rect x="87.04" y="218.30" width="13.81" height="8.15" fill="rgb(255,142,142)"/>
<rect x="100.80" y="218.30" width="13.81" height="8.15" fill="rgb(255,255,255)"/>
<rect x="114.56" y="218.30" width="13.81" height="8.15" fill="rgb(255,198,198)"/>
<rect x="128.32" y="218.30" width="13.81" height="8.15" fill="rgb(255,212,212)"/>
<rect x="142.08" y="218.30" width="13.81" height="8.15" fill="rgb(255,212,212)"/>
<rect x="155.84" y="218.30" width="13.81" height="8.15" fill="rgb(255,99,99)"/>
<rect x="169.60" y="218.30" width="13.81" height="8.15" fill="rgb(255,246,246)"/>
<rect x="183.36" y="218.30" width="13.81" height="8.15" fill="rgb(255,0,0)"/>
<rect x="197.12" y="218.30" width="13.81" height="8.15" fill="rgb(255,142,142)"/>
<rect x="210.88" y="218.30" width="13.81" height="8.15" fill="rgb(245,249,250)"/>
<rect x="224.64" y="218.30" width="13.81" height="8.15" fill="rgb(255,0,0)"/>
<rect x="238.40" y="218.30" width="13.81" height="8.15" fill="rgb(255,170,170)"/>
<rect x="252.16" y="218.30" width="13.81" height="8.15" fill="rgb(255,212,212)"/>
<rect x="265.92" y="218.30" width="13.81" height="8.15" fill="rgb(255,198,198)"/>
<rect x="279.68" y="218.30" width="13.81" height="8.15" fill="rgb(255,57,57)"/>
<rect x="293.44" y="218.30" width="13.81" height="8.15" fill="rgb(255,0,0)"/>
<rect x="307.20" y="218.30" width="13.81" height="8.15" fill="rgb(255,71,71)"/>
<rect x="320.96" y="218.30" width="13.81" height="8.15" fill="rgb(255,255,255)"/>
<rect x="334.72" y="218.30" width="13.81" height="8.15" fill="rgb(255,255,255)"/>
<rect x="348.48" y="218.30" width="13.81" height="8.15" fill="rgb(255,113,113)"/>
<rect x="32.00" y="226.40" width="13.81" height="8.15" fill="rgb(255,255,255)"/>
<rect x="45.76" y="226.40" width="13.81" height="8.15" fill="rgb(245,249,250)"/>
<rect x="59.52" y="226.40" width="13.81" height="8.15" fill="rgb(255,255,255)"/>
<rect x="73.28" y="226.40" width="13.81" height="8.15" fill="rgb(255,0,0)"/>
<rect x="87.04" y="226.40" width="13.81" height="8.15" fill="rgb(255,0,0)"/>
<rect x="100.80" y="226.40" width="13.81" height="8.15" fill="rgb(255,0,0)"/>
<rect x="114.56" y="226.40" width="13.81" height="8.15" fill="rgb(255,28,28)"/>
<rect x="128.32" y="226.40" width="13.81" height="8.15" fill="rgb(255,57,57)"/>
<rect x="142.08" y="226.40" width="13.81" height="8.15" fill="rgb(255,85,85)"/>
<rect x="155.84" y="226.40" width="13.81" height="8.15" fill="rgb(255,142,142)"/>
<rect x="169.60" y="226.40" width="13.81" height="8.15" fill="rgb(255,170,170)"/>
<rect x="183.36" y="226.40" width="13.81" height="8.15" fill="rgb(255,170,170)"/>
<rect x="197.12" y="226.40" width="13.81" height="8.15" fill="rgb(238,242,250)"/>
<rect x="210.88" y="226.40" width="13.81" height="8.15" fill="rgb(245,249,250)"/>
<rect x="224.64" y="226.40" width="13.81" height="8.15" fill="rgb(255,0,0)"/>
<rect x="238.40" y="226.40" width="13.81" height="8.15" fill="rgb(255,198,198)"/>
<rect x="252.16" y="226.40" width="13.81" height="8.15" fill="rgb(255,170,170)"/>
<rect x="265.92" y="226.40" width="13.81" height="8.15" fill="rgb(255,227,227)"/>
<rect x="279.68" y="226.40" width="13.81" height="8.15" fill="rgb(255,28,28)"/>
<rect x="293.44" y="226.40" width="13.81" height="8.15" fill="rgb(255,156,156)"/>
<rect x="307.20" y="226.40" width="13.81" height="8.15" fill="rgb(255,170,170)"/>
<rect x="320.96" y="226.40" width="13.81" height="8.15" fill="rgb(255,128,128)"/>
<rect x="334.72" y="226.40" width="13.81" height="8.15" fill="rgb(255,156,156)"/>
<rect x="348.48" y="226.40" width="13.81" height="8.15" fill="rgb(255,255,255)"/>
</g>
<g stroke="#222" stroke-width="1.1" stroke-dasharray="2 2.3">
<line x1="73.6" y1="7.5" x2="73.6" y2="234.5"/>
<line x1="155.6" y1="11.5" x2="155.6" y2="234.5"/>
</g>
<text x="0.0" y="10.8" font-size="14.3" font-weight="bold" fill="#111">A</text>
<g font-size="11.7" font-weight="bold" fill="#111">
<text x="27.6" y="14.0">Normal</text>
<text x="74.4" y="14.0">MM Cell Lines</text>
<text x="173.0" y="14.0">MM Cells Derived From Patients</text>
</g>
<g font-size="9.6" font-weight="bold" fill="#111">
<text x="33.0" y="28.2" font-size="9.7" font-weight="bold">P<tspan font-size="7.2" dy="2.4">1</tspan></text>
<text x="44.6" y="28.2" font-size="9.7" font-weight="bold">P<tspan font-size="7.2" dy="2.4">2</tspan></text>
<text x="59.8" y="28.2" font-size="9.7" font-weight="bold">P<tspan font-size="7.2" dy="2.4">3</tspan></text>
<text x="80.6" y="29.6" text-anchor="middle">D</text>
<text x="94.5" y="29.6" text-anchor="middle">K</text>
<text x="106.8" y="29.6" text-anchor="middle">P</text>
<text x="120.6" y="29.6" text-anchor="middle">M</text>
<text x="136.1" y="29.6" text-anchor="middle">U</text>
<text x="148.6" y="29.6" text-anchor="middle">8</text>
<text x="162.1" y="29.6" text-anchor="middle">1</text>
<text x="174.3" y="29.6" text-anchor="middle">2</text>
<text x="189.3" y="29.6" text-anchor="middle">3</text>
<text x="202.2" y="29.6" text-anchor="middle">4</text>
<text x="217.0" y="29.6" text-anchor="middle">5</text>
<text x="229.2" y="29.6" text-anchor="middle">6</text>
<text x="242.3" y="29.6" text-anchor="middle">7</text>
<text x="256.9" y="29.6" text-anchor="middle">8</text>
<text x="271.9" y="29.6" text-anchor="middle">9</text>
<text x="282.6" y="29.6" text-anchor="middle">10</text>
<text x="298.0" y="29.6" text-anchor="middle">11</text>
<text x="313.5" y="29.6" text-anchor="middle">12</text>
<text x="326.2" y="29.6" text-anchor="middle">13</text>
<text x="338.9" y="29.6" text-anchor="middle">14</text>
<text x="351.6" y="29.6" text-anchor="middle">15</text>
</g>
<g font-size="8.4" font-weight="bold">
<text transform="translate(384.3,14.8) scale(0.95,1)" fill="#222">ERCC1</text>
<text transform="translate(384.3,25.5) scale(0.95,1)" fill="#222">RAD23B</text>
<text transform="translate(384.3,35.7) scale(0.95,1)" fill="#222">RAD23A</text>
<text transform="translate(384.3,50.1) scale(0.95,1)" fill="#b12fbf">APEX1</text>
<text transform="translate(384.3,60.7) scale(0.95,1)" fill="#b12fbf">APEX2</text>
<text transform="translate(384.3,71.3) scale(0.95,1)" fill="#b12fbf">NTHE3L1</text>
<text transform="translate(384.3,81.7) scale(0.95,1)" fill="#b12fbf">DNASEII</text>
<text transform="translate(384.3,92.0) scale(0.95,1)" fill="#b12fbf">SFN</text>
<text transform="translate(384.3,102.6) scale(0.95,1)" fill="#b12fbf">EXO1</text>
<text transform="translate(384.3,113.0) scale(0.95,1)" fill="#b12fbf">EXO2</text>
<text transform="translate(384.3,126.4) scale(0.95,1)" fill="#2a2ab8">DBH</text>
<text transform="translate(384.3,136.6) scale(0.95,1)" fill="#2a2ab8">NAH</text>
<text transform="translate(384.3,146.6) scale(0.95,1)" fill="#2a2ab8">RQH</text>
<text transform="translate(384.3,156.4) scale(0.95,1)" fill="#2a2ab8">DHBH</text>
<text transform="translate(384.3,166.6) scale(0.95,1)" fill="#2a2ab8">CHRH</text>
<text transform="translate(384.3,180.7) scale(0.95,1)" fill="#d2232e">RAD51L</text>
<text transform="translate(384.3,190.7) scale(0.95,1)" fill="#d2232e">RAD51L</text>
<text transform="translate(384.3,200.4) scale(0.95,1)" fill="#d2232e">RAD51</text>
<text transform="translate(384.3,210.4) scale(0.95,1)" fill="#d2232e">RAD51</text>
<text transform="translate(384.3,221.3) scale(0.95,1)" fill="#d2232e">RAD51B</text>
<text transform="translate(384.3,231.0) scale(0.95,1)" fill="#d2232e">RAD51C</text>
<text transform="translate(384.3,240.7) scale(0.95,1)" fill="#d2232e">RAD51D</text>
<text transform="translate(384.3,250.4) scale(0.95,1)" fill="#d2232e">XRCC3</text>
<text transform="translate(384.3,266.1) scale(0.95,1)" fill="#427232">RAD50</text>
<text transform="translate(384.3,276.7) scale(0.95,1)" fill="#427232">RAD50</text>
</g>
<g stroke="#445" stroke-width="0.9" fill="none">
<line x1="364.8" y1="33.5" x2="381.1" y2="12.3"/>
<line x1="364.9" y1="42.5" x2="380.4" y2="23.7"/>
<line x1="364.0" y1="221.8" x2="381.2" y2="257.1"/>
<line x1="363.1" y1="230.5" x2="381.2" y2="268.7"/>
</g>
<path d="M422.8 2.8 H427.1 V35.3 H422.8" fill="none" stroke="#333" stroke-width="1"/>
<path d="M422.8 40.4 H427.1 V113.6 H422.8" fill="none" stroke="#b12fbf" stroke-width="1"/>
<path d="M422.8 118.1 H427.1 V170.7 H422.8" fill="none" stroke="#2a2ab8" stroke-width="1"/>
<path d="M422.8 173.2 H427.1 V252.8 H422.8" fill="none" stroke="#d2232e" stroke-width="1"/>
<path d="M422.8 257.1 H427.1 V276.9 H422.8" fill="none" stroke="#427232" stroke-width="1"/>
<g font-size="10" font-weight="bold">
<text x="472.4" y="13.2" fill="#222" text-anchor="middle">IMPLICATED IN:</text>
<text x="471.8" y="25.4" fill="#222" text-anchor="middle">DNA DAMAGE</text>
<text x="472.4" y="37.2" fill="#222" text-anchor="middle">RECOGNITION</text>
<text x="474.2" y="71.6" fill="#b12fbf" text-anchor="middle">ENDO AND</text>
<text x="475.2" y="84.0" fill="#b12fbf" text-anchor="middle">EXONUCLEASES;</text>
<text x="479.6" y="143.4" fill="#2a2ab8" text-anchor="middle">HELICASES;</text>
<text x="473.5" y="211.8" fill="#d2232e" text-anchor="middle">RECOMBINASE</text>
<text x="473.3" y="224.0" fill="#d2232e" text-anchor="middle">AND PARALOGS</text>
<text x="472.1" y="264.0" fill="#427232" text-anchor="middle">TELOMERE</text>
<text x="472.1" y="276.3" fill="#427232" text-anchor="middle">MAINTENANCE</text>
</g>
<g shape-rendering="crispEdges">
<rect x="31.80" y="248.7" width="23.70" height="11.6" fill="rgb(0, 0, 255)"/>
<rect x="55.40" y="248.7" width="23.70" height="11.6" fill="rgb(0, 0, 255)"/>
<rect x="79.00" y="248.7" width="23.70" height="11.6" fill="rgb(0, 0, 255)"/>
<rect x="102.60" y="248.7" width="23.70" height="11.6" fill="rgb(30, 30, 245)"/>
<rect x="126.20" y="248.7" width="23.70" height="11.6" fill="rgb(70, 70, 245)"/>
<rect x="149.80" y="248.7" width="23.70" height="11.6" fill="rgb(110, 110, 248)"/>
<rect x="173.40" y="248.7" width="23.70" height="11.6" fill="rgb(150, 150, 250)"/>
<rect x="197.00" y="248.7" width="23.70" height="11.6" fill="rgb(190, 190, 252)"/>
<rect x="220.60" y="248.7" width="23.70" height="11.6" fill="rgb(225, 225, 252)"/>
<rect x="244.20" y="248.7" width="23.70" height="11.6" fill="rgb(252, 244, 244)"/>
<rect x="267.80" y="248.7" width="23.70" height="11.6" fill="rgb(255, 200, 200)"/>
<rect x="291.40" y="248.7" width="23.70" height="11.6" fill="rgb(255, 160, 160)"/>
<rect x="315.00" y="248.7" width="23.70" height="11.6" fill="rgb(255, 115, 115)"/>
<rect x="338.60" y="248.7" width="23.70" height="11.6" fill="rgb(255, 75, 75)"/>
</g>
<g font-size="10.4" fill="#111">
<text x="43.60" y="271.8" text-anchor="middle">-3.0</text>
<text x="67.20" y="271.8" text-anchor="middle">-2.5</text>
<text x="90.80" y="271.8" text-anchor="middle">-2.1</text>
<text x="114.40" y="271.8" text-anchor="middle">-1.6</text>
<text x="138.00" y="271.8" text-anchor="middle">-1.2</text>
<text x="161.60" y="271.8" text-anchor="middle">-0.7</text>
<text x="185.20" y="271.8" text-anchor="middle">-0.2</text>
<text x="208.80" y="271.8" text-anchor="middle">0.2</text>
<text x="232.40" y="271.8" text-anchor="middle">0.7</text>
<text x="256.00" y="271.8" text-anchor="middle">1.2</text>
<text x="279.60" y="271.8" text-anchor="middle">1.6</text>
<text x="303.20" y="271.8" text-anchor="middle">2.1</text>
<text x="326.80" y="271.8" text-anchor="middle">2.5</text>
<text x="350.40" y="271.8" text-anchor="middle">3.0</text>
</g>
<line x1="63.4" y1="282.2" x2="451" y2="282.2" stroke="#555" stroke-width="1.1" stroke-dasharray="2.5 1.8"/>
<text x="-0.6" y="294.1" font-size="13.6" font-weight="bold" fill="#111">B</text>
<text x="134.2" y="297.4" font-size="15" font-weight="bold" fill="#111">Protein Expression of HsRAD51</text>
<rect x="82.6" y="305.8" width="61.0" height="44.5" fill="rgb(178,190,190)"/>
<g clip-path="url(#c_i)">
<circle cx="105.8" cy="314.6" r="3.2" fill="rgb(192,204,204)" stroke="rgb(135,147,148)" stroke-width="0.8" filter="url(#bl2)"/>
<circle cx="113.5" cy="315.2" r="2.6" fill="rgb(192,204,204)" stroke="rgb(135,147,148)" stroke-width="0.8" filter="url(#bl2)"/>
<circle cx="122.5" cy="315.9" r="3.9" fill="rgb(192,204,204)" stroke="rgb(135,147,148)" stroke-width="0.8" filter="url(#bl2)"/>
<circle cx="127.7" cy="319.8" r="3.2" fill="rgb(192,204,204)" stroke="rgb(135,147,148)" stroke-width="0.8" filter="url(#bl2)"/>
<circle cx="114.8" cy="324.9" r="5.2" fill="rgb(192,204,204)" stroke="rgb(135,147,148)" stroke-width="0.8" filter="url(#bl2)"/>
<circle cx="123.8" cy="328.8" r="5.8" fill="rgb(192,204,204)" stroke="rgb(135,147,148)" stroke-width="0.8" filter="url(#bl2)"/>
<circle cx="105.8" cy="328.8" r="3.2" fill="rgb(192,204,204)" stroke="rgb(135,147,148)" stroke-width="0.8" filter="url(#bl2)"/>
<circle cx="109.6" cy="335.2" r="4.5" fill="rgb(192,204,204)" stroke="rgb(135,147,148)" stroke-width="0.8" filter="url(#bl2)"/>
<circle cx="121.2" cy="336.5" r="5.2" fill="rgb(192,204,204)" stroke="rgb(135,147,148)" stroke-width="0.8" filter="url(#bl2)"/>
<circle cx="117.4" cy="344.2" r="2.6" fill="rgb(192,204,204)" stroke="rgb(135,147,148)" stroke-width="0.8" filter="url(#bl2)"/>
<circle cx="96.8" cy="339.1" r="1.9" fill="rgb(192,204,204)" stroke="rgb(135,147,148)" stroke-width="0.8" filter="url(#bl2)"/>
<circle cx="99.3" cy="341.7" r="1.5" fill="rgb(192,204,204)" stroke="rgb(135,147,148)" stroke-width="0.8" filter="url(#bl2)"/>
<circle cx="140" cy="308.8" r="2.4" fill="rgb(192,204,204)" stroke="rgb(135,147,148)" stroke-width="0.8" filter="url(#bl2)"/>
<ellipse cx="84.6" cy="328" rx="1.65" ry="1.65" fill="rgb(30, 30, 30)" filter="url(#bl)"/>
<ellipse cx="133.9" cy="329" rx="1.32" ry="1.32" fill="rgb(40, 40, 40)" filter="url(#bl)"/>
<ellipse cx="84.5" cy="312" rx="1.65" ry="1.65" fill="rgb(120, 120, 170)" filter="url(#bl)"/>
</g>
<text x="86.19999999999999" y="319.0" fill="#eeee30" font-size="12.5" font-weight="bold">i</text>
<rect x="150.6" y="305.8" width="61.0" height="44.5" fill="rgb(194,202,211)"/>
<g clip-path="url(#c_ii)">
<circle cx="162.5" cy="315.9" r="3.2" fill="rgb(182,180,172)" stroke="rgb(120,108,88)" stroke-width="1.0" filter="url(#bl2)"/>
<circle cx="174.7" cy="318.5" r="2.8" fill="rgb(182,180,172)" stroke="rgb(120,108,88)" stroke-width="1.0" filter="url(#bl2)"/>
<circle cx="165" cy="323.6" r="3.9" fill="rgb(182,180,172)" stroke="rgb(120,108,88)" stroke-width="1.0" filter="url(#bl2)"/>
<circle cx="179.2" cy="325.6" r="3.2" fill="rgb(182,180,172)" stroke="rgb(120,108,88)" stroke-width="1.0" filter="url(#bl2)"/>
<circle cx="185.7" cy="332.6" r="3.9" fill="rgb(182,180,172)" stroke="rgb(120,108,88)" stroke-width="1.0" filter="url(#bl2)"/>
<circle cx="188.2" cy="335.2" r="2.6" fill="rgb(182,180,172)" stroke="rgb(120,108,88)" stroke-width="1.0" filter="url(#bl2)"/>
<circle cx="183.1" cy="337.8" r="3.2" fill="rgb(182,180,172)" stroke="rgb(120,108,88)" stroke-width="1.0" filter="url(#bl2)"/>
<circle cx="198.5" cy="336.5" r="2.8" fill="rgb(182,180,172)" stroke="rgb(120,108,88)" stroke-width="1.0" filter="url(#bl2)"/>
<circle cx="198.5" cy="344.2" r="2.6" fill="rgb(182,180,172)" stroke="rgb(120,108,88)" stroke-width="1.0" filter="url(#bl2)"/>
<circle cx="165.7" cy="345.5" r="2.6" fill="rgb(182,180,172)" stroke="rgb(120,108,88)" stroke-width="1.0" filter="url(#bl2)"/>
<circle cx="194.7" cy="310.7" r="3.2" fill="rgb(182,180,172)" stroke="rgb(120,108,88)" stroke-width="1.0" filter="url(#bl2)"/>
<ellipse cx="205" cy="327.5" rx="1.10" ry="1.10" fill="rgb(60, 60, 70)" filter="url(#bl)"/>
<ellipse cx="174.7" cy="318.5" rx="1.76" ry="1.76" fill="rgb(90, 70, 50)" filter="url(#bl)"/>
</g>
<text x="154.2" y="319.0" fill="#eeee30" font-size="12.5" font-weight="bold">ii</text>
<rect x="216.2" y="305.8" width="61.0" height="44.5" fill="rgb(180,193,199)"/>
<g clip-path="url(#c_iii)">
<circle cx="226" cy="318" r="4.2" fill="rgb(160,145,102)" stroke="rgb(105,90,58)" stroke-width="0.8" filter="url(#bl2)"/>
<circle cx="231" cy="323" r="4.5" fill="rgb(160,145,102)" stroke="rgb(105,90,58)" stroke-width="0.8" filter="url(#bl2)"/>
<circle cx="226" cy="328" r="4.5" fill="rgb(160,145,102)" stroke="rgb(105,90,58)" stroke-width="0.8" filter="url(#bl2)"/>
<circle cx="232" cy="333" r="4.8" fill="rgb(160,145,102)" stroke="rgb(105,90,58)" stroke-width="0.8" filter="url(#bl2)"/>
<circle cx="227" cy="339" r="4.5" fill="rgb(160,145,102)" stroke="rgb(105,90,58)" stroke-width="0.8" filter="url(#bl2)"/>
<circle cx="233" cy="343" r="3.8" fill="rgb(160,145,102)" stroke="rgb(105,90,58)" stroke-width="0.8" filter="url(#bl2)"/>
<ellipse cx="229" cy="309" rx="4.40" ry="3.30" fill="rgb(110, 100, 70)" filter="url(#bl)"/>
<circle cx="252" cy="320" r="4.5" fill="rgb(160,145,102)" stroke="rgb(105,90,58)" stroke-width="0.8" filter="url(#bl2)"/>
<circle cx="259" cy="324" r="4.5" fill="rgb(160,145,102)" stroke="rgb(105,90,58)" stroke-width="0.8" filter="url(#bl2)"/>
<circle cx="254" cy="329" r="3.5" fill="rgb(160,145,102)" stroke="rgb(105,90,58)" stroke-width="0.8" filter="url(#bl2)"/>
<circle cx="265" cy="324" r="4.2" fill="rgb(160,145,102)" stroke="rgb(105,90,58)" stroke-width="0.8" filter="url(#bl2)"/>
<circle cx="270" cy="329" r="4.5" fill="rgb(160,145,102)" stroke="rgb(105,90,58)" stroke-width="0.8" filter="url(#bl2)"/>
<circle cx="266" cy="335" r="4.2" fill="rgb(160,145,102)" stroke="rgb(105,90,58)" stroke-width="0.8" filter="url(#bl2)"/>
<circle cx="273" cy="320" r="3.5" fill="rgb(160,145,102)" stroke="rgb(105,90,58)" stroke-width="0.8" filter="url(#bl2)"/>
<ellipse cx="240.7" cy="322.3" rx="0.99" ry="2.42" fill="rgb(35, 35, 45)" filter="url(#bl)"/>
<circle cx="244" cy="326" r="3.0" fill="rgb(160,145,102)" stroke="rgb(105,90,58)" stroke-width="0.8" filter="url(#bl2)"/>
<ellipse cx="222" cy="346" rx="2.75" ry="2.75" fill="rgb(120, 110, 80)" filter="url(#bl)"/>
<circle cx="262" cy="345" r="3.0" fill="rgb(160,145,102)" stroke="rgb(105,90,58)" stroke-width="0.8" filter="url(#bl2)"/>
<circle cx="238" cy="313" r="2.5" fill="rgb(160,145,102)" stroke="rgb(105,90,58)" stroke-width="0.8" filter="url(#bl2)"/>
</g>
<text x="219.79999999999998" y="319.0" fill="#eeee30" font-size="12.5" font-weight="bold">iii</text>
<rect x="281.8" y="305.8" width="61.0" height="44.5" fill="rgb(192,208,221)"/>
<g clip-path="url(#c_iv)">
<ellipse cx="290" cy="324.9" rx="3.77" ry="3.77" fill="rgb(75, 32, 32)" filter="url(#bl)"/>
<ellipse cx="295.8" cy="330" rx="3.51" ry="3.51" fill="rgb(75, 32, 32)" filter="url(#bl)"/>
<ellipse cx="300.9" cy="331.4" rx="3.12" ry="3.12" fill="rgb(75, 32, 32)" filter="url(#bl)"/>
<ellipse cx="303.5" cy="327.5" rx="3.12" ry="3.12" fill="rgb(75, 32, 32)" filter="url(#bl)"/>
<ellipse cx="307.4" cy="324.9" rx="3.38" ry="3.38" fill="rgb(75, 32, 32)" filter="url(#bl)"/>
<ellipse cx="309.9" cy="328.8" rx="3.64" ry="3.64" fill="rgb(75, 32, 32)" filter="url(#bl)"/>
<ellipse cx="312.5" cy="331.4" rx="3.12" ry="3.12" fill="rgb(75, 32, 32)" filter="url(#bl)"/>
<ellipse cx="316.4" cy="328.8" rx="3.38" ry="3.38" fill="rgb(75, 32, 32)" filter="url(#bl)"/>
<ellipse cx="319" cy="332.6" rx="4.16" ry="4.16" fill="rgb(75, 32, 32)" filter="url(#bl)"/>
<ellipse cx="320.2" cy="327.5" rx="3.38" ry="3.38" fill="rgb(75, 32, 32)" filter="url(#bl)"/>
<ellipse cx="317.7" cy="317.2" rx="3.38" ry="3.38" fill="rgb(45, 30, 35)" filter="url(#bl)"/>
<ellipse cx="324.1" cy="314.6" rx="4.16" ry="4.16" fill="rgb(110, 80, 50)" filter="url(#bl)"/>
<ellipse cx="331.8" cy="317.2" rx="4.16" ry="4.16" fill="rgb(120, 90, 60)" filter="url(#bl)"/>
<ellipse cx="330.5" cy="326.2" rx="3.38" ry="3.38" fill="rgb(45, 30, 35)" filter="url(#bl)"/>
<ellipse cx="335.7" cy="330" rx="3.90" ry="3.90" fill="rgb(35, 35, 55)" filter="url(#bl)"/>
<ellipse cx="297" cy="336.5" rx="3.90" ry="3.90" fill="rgb(75, 32, 32)" filter="url(#bl)"/>
<ellipse cx="294.5" cy="343" rx="3.38" ry="3.38" fill="rgb(45, 30, 35)" filter="url(#bl)"/>
<ellipse cx="293.2" cy="347.5" rx="2.60" ry="2.60" fill="rgb(90, 60, 45)" filter="url(#bl)"/>
<ellipse cx="313.8" cy="336.5" rx="3.38" ry="3.38" fill="rgb(45, 30, 35)" filter="url(#bl)"/>
<ellipse cx="331.8" cy="337.8" rx="2.60" ry="2.60" fill="rgb(35, 35, 55)" filter="url(#bl)"/>
<ellipse cx="322.8" cy="306.9" rx="3.38" ry="3.38" fill="rgb(45, 30, 35)" filter="url(#bl)"/>
</g>
<text x="285.40000000000003" y="319.0" fill="#eeee30" font-size="12.5" font-weight="bold">iv</text>
<rect x="348.6" y="305.8" width="61.0" height="44.5" fill="rgb(188,202,208)"/>
<g clip-path="url(#c_v)">
<ellipse cx="352.1" cy="309.4" rx="3.38" ry="3.38" fill="rgb(35, 35, 55)" filter="url(#bl)"/>
<ellipse cx="369.5" cy="308.8" rx="4.68" ry="4.68" fill="rgb(45, 30, 35)" filter="url(#bl)"/>
<ellipse cx="367.6" cy="315.2" rx="3.90" ry="3.90" fill="rgb(75, 32, 32)" filter="url(#bl)"/>
<ellipse cx="364.3" cy="315.9" rx="3.12" ry="3.12" fill="rgb(45, 30, 35)" filter="url(#bl)"/>
<ellipse cx="378.5" cy="318.5" rx="3.64" ry="3.64" fill="rgb(45, 30, 35)" filter="url(#bl)"/>
<ellipse cx="383.7" cy="308.2" rx="3.12" ry="3.12" fill="rgb(120, 90, 60)" filter="url(#bl)"/>
<ellipse cx="391.4" cy="309.4" rx="3.64" ry="3.64" fill="rgb(115, 85, 55)" filter="url(#bl)"/>
<ellipse cx="399.1" cy="317.2" rx="4.68" ry="4.68" fill="rgb(110, 70, 40)" filter="url(#bl)"/>
<ellipse cx="405.6" cy="315.9" rx="3.12" ry="3.12" fill="rgb(45, 30, 35)" filter="url(#bl)"/>
<ellipse cx="366.9" cy="323.6" rx="3.90" ry="3.90" fill="rgb(45, 30, 35)" filter="url(#bl)"/>
<ellipse cx="372" cy="322.3" rx="3.12" ry="3.12" fill="rgb(45, 30, 35)" filter="url(#bl)"/>
<ellipse cx="375.9" cy="327.5" rx="3.64" ry="3.64" fill="rgb(45, 30, 35)" filter="url(#bl)"/>
<ellipse cx="387.5" cy="322.3" rx="3.64" ry="3.64" fill="rgb(45, 30, 35)" filter="url(#bl)"/>
<ellipse cx="394.6" cy="326.8" rx="3.38" ry="3.38" fill="rgb(45, 30, 35)" filter="url(#bl)"/>
<ellipse cx="354" cy="326.2" rx="3.90" ry="3.90" fill="rgb(75, 32, 32)" filter="url(#bl)"/>
<ellipse cx="356.6" cy="335.2" rx="3.38" ry="3.38" fill="rgb(92, 60, 40)" filter="url(#bl)"/>
<ellipse cx="357.9" cy="340.4" rx="4.68" ry="4.68" fill="rgb(110, 60, 30)" filter="url(#bl)"/>
<ellipse cx="368.2" cy="341.7" rx="3.90" ry="3.90" fill="rgb(100, 60, 40)" filter="url(#bl)"/>
<ellipse cx="374.6" cy="336.5" rx="3.38" ry="3.38" fill="rgb(45, 30, 35)" filter="url(#bl)"/>
<ellipse cx="383.7" cy="339.1" rx="3.38" ry="3.38" fill="rgb(35, 35, 55)" filter="url(#bl)"/>
<ellipse cx="377.2" cy="344.2" rx="3.64" ry="3.64" fill="rgb(92, 60, 40)" filter="url(#bl)"/>
<ellipse cx="370.8" cy="346.8" rx="3.38" ry="3.38" fill="rgb(45, 30, 35)" filter="url(#bl)"/>
<ellipse cx="388.8" cy="332.6" rx="2.34" ry="2.34" fill="rgb(120, 120, 120)" filter="url(#bl)"/>
</g>
<text x="352.20000000000005" y="319.0" fill="#eeee30" font-size="12.5" font-weight="bold">v</text>
<rect x="84.1" y="354.9" width="61.0" height="44.3" fill="rgb(181,195,191)"/>
<g clip-path="url(#c_vi)">
<ellipse cx="87.7" cy="357.7" rx="2.99" ry="2.99" fill="rgb(20, 20, 25)" filter="url(#bl)"/>
<ellipse cx="95.5" cy="356.4" rx="2.60" ry="2.60" fill="rgb(45, 30, 35)" filter="url(#bl)"/>
<ellipse cx="100.6" cy="364.2" rx="3.90" ry="3.90" fill="rgb(75, 32, 32)" filter="url(#bl)"/>
<ellipse cx="113.5" cy="357.7" rx="3.90" ry="3.90" fill="rgb(75, 32, 32)" filter="url(#bl)"/>
<ellipse cx="114.8" cy="364.2" rx="3.90" ry="3.90" fill="rgb(75, 32, 32)" filter="url(#bl)"/>
<ellipse cx="108.4" cy="368" rx="3.90" ry="3.90" fill="rgb(45, 30, 35)" filter="url(#bl)"/>
<ellipse cx="110.9" cy="371.9" rx="3.90" ry="3.90" fill="rgb(75, 32, 32)" filter="url(#bl)"/>
<ellipse cx="117.4" cy="370.6" rx="3.90" ry="3.90" fill="rgb(75, 32, 32)" filter="url(#bl)"/>
<ellipse cx="118.7" cy="375.8" rx="3.38" ry="3.38" fill="rgb(45, 30, 35)" filter="url(#bl)"/>
<ellipse cx="125.1" cy="374.5" rx="3.38" ry="3.38" fill="rgb(45, 30, 35)" filter="url(#bl)"/>
<ellipse cx="126.4" cy="379.6" rx="3.64" ry="3.64" fill="rgb(75, 32, 32)" filter="url(#bl)"/>
<ellipse cx="134.1" cy="378.4" rx="3.12" ry="3.12" fill="rgb(45, 30, 35)" filter="url(#bl)"/>
<ellipse cx="132.8" cy="362.9" rx="1.43" ry="1.43" fill="rgb(45, 30, 35)" filter="url(#bl)"/>
<ellipse cx="130.3" cy="384.8" rx="3.38" ry="3.38" fill="rgb(75, 32, 32)" filter="url(#bl)"/>
<ellipse cx="130.3" cy="391.2" rx="3.12" ry="3.12" fill="rgb(35, 35, 55)" filter="url(#bl)"/>
<ellipse cx="140.6" cy="390" rx="3.90" ry="3.90" fill="rgb(75, 32, 32)" filter="url(#bl)"/>
<ellipse cx="94.2" cy="382.2" rx="3.90" ry="3.90" fill="rgb(45, 30, 35)" filter="url(#bl)"/>
<ellipse cx="103.2" cy="380.9" rx="3.90" ry="3.90" fill="rgb(92, 60, 40)" filter="url(#bl)"/>
<ellipse cx="110.9" cy="383.5" rx="3.90" ry="3.90" fill="rgb(92, 60, 40)" filter="url(#bl)"/>
<ellipse cx="108.4" cy="387.4" rx="3.38" ry="3.38" fill="rgb(92, 60, 40)" filter="url(#bl)"/>
<ellipse cx="98" cy="390" rx="3.90" ry="3.90" fill="rgb(92, 60, 40)" filter="url(#bl)"/>
<ellipse cx="101.9" cy="392.5" rx="4.68" ry="4.68" fill="rgb(95, 60, 40)" filter="url(#bl)"/>
<ellipse cx="103.2" cy="397.7" rx="3.38" ry="3.38" fill="rgb(45, 30, 35)" filter="url(#bl)"/>
<ellipse cx="85.2" cy="390" rx="2.60" ry="2.60" fill="rgb(45, 30, 35)" filter="url(#bl)"/>
</g>
<text x="87.69999999999999" y="367.29999999999995" fill="#eeee30" font-size="12.5" font-weight="bold">vi</text>
<rect x="150.6" y="354.9" width="61.0" height="44.3" fill="rgb(179,191,200)"/>
<g clip-path="url(#c_vii)">
<ellipse cx="154.7" cy="371.9" rx="4.42" ry="4.42" fill="rgb(35, 35, 55)" filter="url(#bl)"/>
<ellipse cx="161.2" cy="370.6" rx="3.90" ry="3.90" fill="rgb(60, 30, 30)" filter="url(#bl)"/>
<ellipse cx="171.5" cy="368" rx="4.42" ry="4.42" fill="rgb(25, 25, 60)" filter="url(#bl)"/>
<ellipse cx="179.2" cy="366.1" rx="3.90" ry="3.90" fill="rgb(75, 32, 32)" filter="url(#bl)"/>
<ellipse cx="197.3" cy="359" rx="5.46" ry="4.42" fill="rgb(60, 40, 40)" filter="url(#bl)"/>
<ellipse cx="202.4" cy="357.7" rx="3.90" ry="3.90" fill="rgb(60, 40, 40)" filter="url(#bl)"/>
<ellipse cx="185.7" cy="374.5" rx="4.42" ry="4.42" fill="rgb(75, 32, 32)" filter="url(#bl)"/>
<ellipse cx="187" cy="378.4" rx="3.12" ry="3.12" fill="rgb(75, 32, 32)" filter="url(#bl)"/>
<ellipse cx="202.4" cy="370.6" rx="3.12" ry="3.12" fill="rgb(120, 100, 60)" filter="url(#bl)"/>
<ellipse cx="201.1" cy="377" rx="3.90" ry="3.90" fill="rgb(92, 60, 40)" filter="url(#bl)"/>
<ellipse cx="205" cy="374.5" rx="3.12" ry="3.12" fill="rgb(110, 85, 50)" filter="url(#bl)"/>
<ellipse cx="192.1" cy="390" rx="4.68" ry="4.68" fill="rgb(80, 50, 40)" filter="url(#bl)"/>
<ellipse cx="193.4" cy="393.8" rx="3.90" ry="3.90" fill="rgb(80, 50, 40)" filter="url(#bl)"/>
<ellipse cx="187" cy="388.7" rx="2.86" ry="2.86" fill="rgb(45, 30, 35)" filter="url(#bl)"/>
<ellipse cx="163.8" cy="387.4" rx="1.56" ry="1.56" fill="rgb(45, 30, 35)" filter="url(#bl)"/>
</g>
<text x="154.2" y="367.29999999999995" fill="#eeee30" font-size="12.5" font-weight="bold">vii</text>
<rect x="216.2" y="354.9" width="61.0" height="44.3" fill="rgb(193,206,215)"/>
<g clip-path="url(#c_viii)">
<ellipse cx="257.5" cy="357.7" rx="3.51" ry="3.51" fill="rgb(75, 32, 32)" filter="url(#bl)"/>
<ellipse cx="254.2" cy="366.8" rx="3.90" ry="3.90" fill="rgb(90, 50, 40)" filter="url(#bl)"/>
<ellipse cx="250.4" cy="373.8" rx="3.90" ry="3.90" fill="rgb(45, 30, 35)" filter="url(#bl)"/>
<ellipse cx="259.4" cy="374.5" rx="3.90" ry="3.90" fill="rgb(45, 30, 35)" filter="url(#bl)"/>
<ellipse cx="240" cy="377.7" rx="4.42" ry="4.42" fill="rgb(40, 35, 50)" filter="url(#bl)"/>
<ellipse cx="221.4" cy="388.7" rx="3.51" ry="3.51" fill="rgb(35, 35, 55)" filter="url(#bl)"/>
<ellipse cx="242.6" cy="388.7" rx="4.42" ry="4.42" fill="rgb(75, 32, 32)" filter="url(#bl)"/>
<ellipse cx="251.7" cy="390.6" rx="3.51" ry="3.51" fill="rgb(35, 35, 55)" filter="url(#bl)"/>
<ellipse cx="255.5" cy="389.3" rx="3.12" ry="3.12" fill="rgb(45, 30, 35)" filter="url(#bl)"/>
</g>
<text x="219.79999999999998" y="367.29999999999995" fill="#eeee30" font-size="12.5" font-weight="bold">viii</text>
<rect x="281.8" y="354.9" width="61.0" height="44.3" fill="rgb(189,204,208)"/>
<g clip-path="url(#c_ix)">
<ellipse cx="306" cy="360.3" rx="5.46" ry="4.16" fill="rgb(100, 60, 40)" filter="url(#bl)"/>
<ellipse cx="302.2" cy="359" rx="2.86" ry="2.86" fill="rgb(45, 30, 35)" filter="url(#bl)"/>
<ellipse cx="316.4" cy="356.4" rx="3.12" ry="3.12" fill="rgb(130, 110, 70)" filter="url(#bl)"/>
<ellipse cx="324.1" cy="356.4" rx="2.34" ry="2.34" fill="rgb(45, 30, 35)" filter="url(#bl)"/>
<ellipse cx="328" cy="369.3" rx="4.68" ry="4.68" fill="rgb(110, 50, 40)" filter="url(#bl)"/>
<ellipse cx="325.4" cy="366.8" rx="2.34" ry="2.34" fill="rgb(45, 30, 35)" filter="url(#bl)"/>
<ellipse cx="329.3" cy="375.8" rx="2.34" ry="2.34" fill="rgb(45, 30, 35)" filter="url(#bl)"/>
<ellipse cx="307.4" cy="380.3" rx="5.85" ry="3.12" fill="rgb(40, 35, 40)" filter="url(#bl)"/>
<ellipse cx="284.2" cy="380.9" rx="3.90" ry="3.90" fill="rgb(75, 32, 32)" filter="url(#bl)"/>
<ellipse cx="334.4" cy="388.7" rx="5.46" ry="5.46" fill="rgb(90, 60, 40)" filter="url(#bl)"/>
<ellipse cx="328" cy="387.4" rx="2.86" ry="2.86" fill="rgb(45, 30, 35)" filter="url(#bl)"/>
<ellipse cx="321.5" cy="395.1" rx="3.12" ry="3.12" fill="rgb(45, 30, 35)" filter="url(#bl)"/>
<ellipse cx="338.3" cy="395.1" rx="3.12" ry="3.12" fill="rgb(45, 30, 35)" filter="url(#bl)"/>
<ellipse cx="297" cy="369.3" rx="1.30" ry="1.30" fill="rgb(45, 30, 35)" filter="url(#bl)"/>
<ellipse cx="299.6" cy="373.8" rx="1.04" ry="1.04" fill="rgb(45, 30, 35)" filter="url(#bl)"/>
<ellipse cx="312.5" cy="374.5" rx="1.04" ry="1.04" fill="rgb(45, 30, 35)" filter="url(#bl)"/>
</g>
<text x="285.40000000000003" y="367.29999999999995" fill="#eeee30" font-size="12.5" font-weight="bold">ix</text>
<rect x="348.6" y="354.9" width="61.0" height="44.3" fill="rgb(186,199,210)"/>
<g clip-path="url(#c_x)">
<ellipse cx="369.5" cy="361.6" rx="5.46" ry="5.46" fill="rgb(150, 140, 100)" filter="url(#bl)"/>
<ellipse cx="366.9" cy="359" rx="3.12" ry="3.12" fill="rgb(170, 160, 130)" filter="url(#bl)"/>
<ellipse cx="356" cy="370" rx="3.51" ry="3.51" fill="rgb(50, 50, 50)" filter="url(#bl)"/>
<ellipse cx="383.7" cy="359" rx="3.90" ry="3.90" fill="rgb(60, 30, 40)" filter="url(#bl)"/>
<ellipse cx="387.5" cy="357.7" rx="3.12" ry="3.12" fill="rgb(70, 35, 45)" filter="url(#bl)"/>
<ellipse cx="379.8" cy="366.8" rx="3.90" ry="3.90" fill="rgb(40, 30, 50)" filter="url(#bl)"/>
<ellipse cx="401.7" cy="360.3" rx="3.90" ry="3.90" fill="rgb(80, 40, 40)" filter="url(#bl)"/>
<ellipse cx="393.3" cy="375.8" rx="1.56" ry="1.56" fill="rgb(45, 30, 35)" filter="url(#bl)"/>
<ellipse cx="357.9" cy="387.4" rx="4.42" ry="4.42" fill="rgb(35, 35, 55)" filter="url(#bl)"/>
<ellipse cx="360.5" cy="395.1" rx="3.12" ry="3.12" fill="rgb(45, 30, 35)" filter="url(#bl)"/>
<ellipse cx="403" cy="379.6" rx="4.68" ry="4.68" fill="rgb(75, 32, 32)" filter="url(#bl)"/>
<ellipse cx="405.6" cy="383.5" rx="3.90" ry="3.90" fill="rgb(75, 32, 32)" filter="url(#bl)"/>
<ellipse cx="399.1" cy="391.2" rx="4.68" ry="4.68" fill="rgb(120, 80, 40)" filter="url(#bl)"/>
<ellipse cx="403" cy="395.1" rx="3.12" ry="3.12" fill="rgb(110, 75, 40)" filter="url(#bl)"/>
</g>
<text x="352.20000000000005" y="367.29999999999995" fill="#eeee30" font-size="12.5" font-weight="bold">x</text>
</svg>
</body></html>
